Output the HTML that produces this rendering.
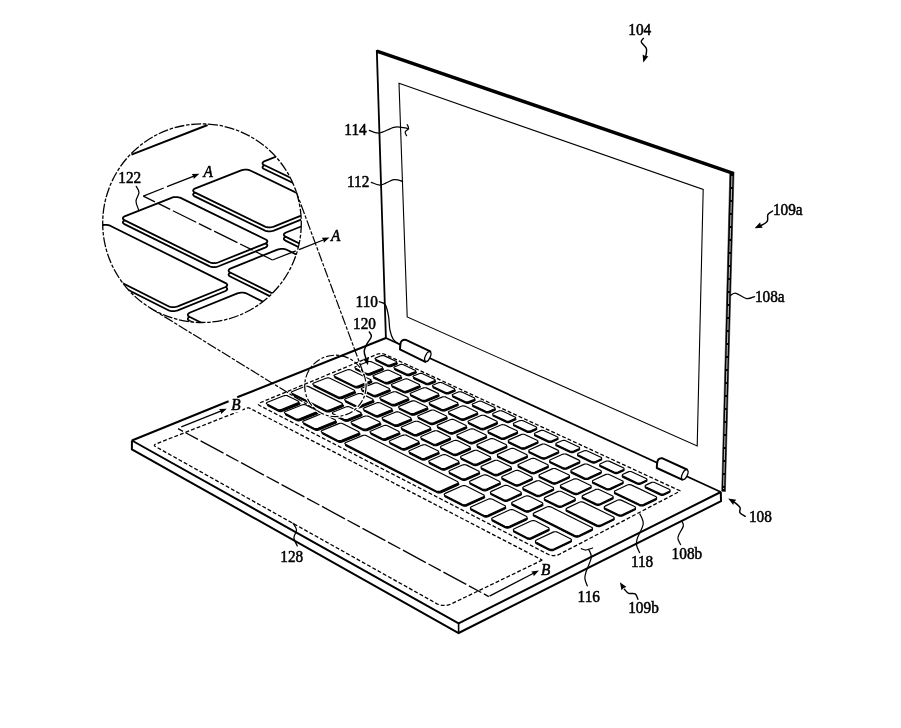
<!DOCTYPE html>
<html><head><meta charset="utf-8"><title>Figure</title>
<style>html,body{margin:0;padding:0;background:#fff}svg{display:block;will-change:transform}text{font-family:"Liberation Serif",serif;fill:#000;stroke:#000;stroke-width:0.5px}</style>
</head><body>
<svg width="901" height="728" viewBox="0 0 901 728">
<rect width="901" height="728" fill="#fff"/>
<g fill="none" stroke="#000" stroke-linecap="butt">
<path d="M131.9 440.5 L458.6 623.3 L720.8 492" stroke-width="2.0" stroke-linejoin="miter"/>
<path d="M131.9 440.5 L131.9 449.3 L458.6 633 L721 501.2 L720.8 492" stroke-width="2.0" stroke-linejoin="miter"/>
<line x1="458.6" y1="623.3" x2="458.6" y2="633" stroke-width="1.6" />
<line x1="131.9" y1="440.5" x2="228.6" y2="401.3" stroke-width="2.0" />
<line x1="237.2" y1="397.3" x2="385.9" y2="338" stroke-width="2.0" />
<line x1="385.9" y1="338" x2="720.8" y2="492" stroke-width="1.8" />
<line x1="376.8" y1="51.2" x2="734" y2="173.6" stroke-width="3.4" stroke-linecap="butt"/>
<line x1="376.8" y1="50" x2="385.9" y2="338" stroke-width="1.8" />
<path d="M399 83.3 L703.2 189.5 L697.2 446 L407.2 317Z" stroke-width="1.1" />
<path d="M729.8 172.5 L734 173.3 L725.4 491.5 L721.7 491.2Z" stroke-width="0.5" fill="#000"/>
<path d="M731.95 176 L723.55 489" stroke-width="1.1" stroke="#b4b4b4" stroke-dasharray="11 2"/>
</g>
<g fill="#fff" stroke="#000" stroke-width="2.0" stroke-linejoin="round"><path d="M399.9 349.3 L400.4 344.2 Q400.7 339.3 405.9 339.9 L430.3 351.3 L425.3 361.9 Z"/><ellipse cx="427.8" cy="356.6" rx="2.4" ry="5.2" transform="rotate(25 427.8 356.6)" stroke-width="1.3"/></g>
<g fill="#fff" stroke="#000" stroke-width="2.0" stroke-linejoin="round"><path d="M656.8 468 L657 464.2 Q657.3 457.6 662 458.2 L686.9 469.5 L682.1 479.7 Z"/><ellipse cx="684.8" cy="474.6" rx="2.5" ry="5.3" transform="rotate(25 684.8 474.6)" stroke-width="1.3"/></g>
<g fill="none" stroke="#000">
<path d="M376.38 354.52 Q381 352.6 385.54 354.7 L679.67 490.66 Q680.4 491 679.69 491.37 L559.98 553.99 Q553.78 557.24 547.56 554.03 L259.94 405.72 Q256.82 404.11 260.06 402.77 Z" stroke-width="1.3" stroke-dasharray="3.9 2.1"/>
<path d="M541.55 559.74 L541.67 559.82 L541.76 559.9 L541.82 559.99 L541.83 560.09 L541.82 560.18 L541.76 560.27 L541.67 560.35 L541.55 560.42 L450.99 604.07 L449.45 604.68 L447.71 605.12 L445.84 605.38 L443.9 605.44 L441.98 605.31 L440.15 604.98 L438.48 604.48 L437.03 603.81 L155.09 446.32 L154.73 446.07 L154.5 445.79 L154.39 445.48 L154.42 445.17 L154.59 444.86 L154.88 444.56 L155.28 444.28 L155.79 444.05 L247.31 408.02 L247.54 407.95 L247.8 407.89 L248.07 407.86 L248.35 407.85 L248.62 407.86 L248.88 407.9 L249.1 407.97 L249.3 408.05Z" stroke-width="1.3" stroke-dasharray="3.9 2.1"/>
</g>
<rect x="229.5" y="404" width="13" height="8.5" fill="#fff"/>
<g fill="#fff" stroke="#000" stroke-width="1.15" stroke-linejoin="round"><path d="M396.74 362.88 L397.15 363.15 L397.35 363.47 L397.31 363.8 L397.03 364.11 L396.55 364.38 L391.32 366.45 L390.67 366.64 L389.93 366.74 L389.16 366.73 L388.44 366.61 L387.84 366.41 L376.39 361.01 L375.98 360.74 L375.79 360.42 L375.84 360.09 L376.12 359.78 L376.61 359.52 L381.82 357.47 L382.47 357.28 L383.21 357.19 L383.98 357.2 L384.69 357.31 L385.28 357.51Z" fill="#000"/><path d="M396 361.24 L396.42 361.51 L396.62 361.83 L396.57 362.16 L396.3 362.48 L395.81 362.74 L390.59 364.82 L389.94 365 L389.19 365.1 L388.42 365.09 L387.7 364.98 L387.1 364.77 L375.66 359.37 L375.24 359.1 L375.05 358.78 L375.1 358.45 L375.38 358.14 L375.87 357.88 L381.09 355.83 L381.73 355.64 L382.47 355.55 L383.24 355.56 L383.95 355.67 L384.55 355.87Z"/><path d="M415.71 371.77 L416.14 372.05 L416.34 372.37 L416.3 372.71 L416.03 373.03 L415.54 373.29 L410.31 375.4 L409.66 375.59 L408.91 375.69 L408.13 375.68 L407.4 375.57 L406.8 375.36 L395.17 369.87 L394.75 369.6 L394.56 369.28 L394.6 368.94 L394.88 368.63 L395.37 368.36 L400.59 366.28 L401.24 366.09 L401.99 365.99 L402.76 366 L403.48 366.11 L404.08 366.32Z" fill="#000"/><path d="M415.05 370.17 L415.48 370.45 L415.68 370.77 L415.64 371.11 L415.37 371.42 L414.88 371.69 L409.65 373.8 L409 373.99 L408.25 374.09 L407.47 374.08 L406.74 373.96 L406.14 373.76 L394.51 368.27 L394.09 367.99 L393.89 367.67 L393.94 367.34 L394.22 367.02 L394.71 366.76 L399.93 364.67 L400.58 364.48 L401.32 364.39 L402.1 364.4 L402.82 364.51 L403.42 364.72Z"/><path d="M434.98 380.81 L435.42 381.09 L435.63 381.42 L435.6 381.76 L435.32 382.08 L434.84 382.35 L429.6 384.49 L428.94 384.69 L428.19 384.78 L427.4 384.77 L426.67 384.66 L426.05 384.45 L414.25 378.88 L413.82 378.6 L413.62 378.27 L413.65 377.93 L413.93 377.61 L414.42 377.34 L419.65 375.22 L420.3 375.03 L421.05 374.94 L421.83 374.95 L422.56 375.06 L423.17 375.27Z" fill="#000"/><path d="M434.4 379.24 L434.83 379.52 L435.05 379.85 L435.01 380.19 L434.74 380.51 L434.25 380.79 L429.01 382.93 L428.36 383.12 L427.6 383.22 L426.82 383.21 L426.09 383.09 L425.47 382.88 L413.66 377.31 L413.24 377.03 L413.03 376.7 L413.07 376.36 L413.35 376.04 L413.84 375.77 L419.07 373.66 L419.72 373.47 L420.47 373.37 L421.25 373.38 L421.98 373.49 L422.58 373.7Z"/><path d="M454.56 389.98 L455 390.27 L455.22 390.6 L455.2 390.95 L454.93 391.28 L454.44 391.56 L449.19 393.73 L448.54 393.92 L447.77 394.02 L446.98 394.01 L446.24 393.9 L445.62 393.68 L433.62 388.02 L433.19 387.74 L432.98 387.4 L433.01 387.06 L433.28 386.73 L433.77 386.46 L439.01 384.31 L439.67 384.12 L440.42 384.02 L441.21 384.03 L441.94 384.15 L442.56 384.36Z" fill="#000"/><path d="M454.06 388.45 L454.5 388.74 L454.72 389.07 L454.69 389.42 L454.42 389.75 L453.94 390.02 L448.69 392.2 L448.03 392.39 L447.27 392.49 L446.48 392.48 L445.74 392.36 L445.11 392.15 L433.12 386.49 L432.68 386.2 L432.47 385.87 L432.5 385.53 L432.78 385.2 L433.27 384.93 L438.51 382.78 L439.16 382.59 L439.92 382.49 L440.7 382.5 L441.44 382.62 L442.05 382.83Z"/><path d="M474.45 399.31 L474.9 399.6 L475.13 399.94 L475.11 400.29 L474.84 400.62 L474.36 400.9 L469.1 403.11 L468.44 403.31 L467.67 403.41 L466.88 403.4 L466.13 403.28 L465.49 403.06 L453.31 397.31 L452.86 397.02 L452.65 396.68 L452.67 396.33 L452.94 396 L453.43 395.73 L458.68 393.55 L459.34 393.35 L460.1 393.25 L460.89 393.26 L461.63 393.38 L462.26 393.59Z" fill="#000"/><path d="M474.03 397.81 L474.48 398.1 L474.7 398.44 L474.68 398.8 L474.41 399.13 L473.93 399.41 L468.67 401.61 L468.01 401.81 L467.25 401.91 L466.45 401.9 L465.7 401.78 L465.07 401.57 L452.88 395.82 L452.44 395.53 L452.22 395.19 L452.25 394.84 L452.52 394.51 L453.01 394.23 L458.26 392.05 L458.91 391.85 L459.67 391.76 L460.46 391.77 L461.21 391.88 L461.83 392.1Z"/><path d="M494.66 408.78 L495.12 409.08 L495.35 409.42 L495.34 409.78 L495.08 410.12 L494.59 410.4 L489.33 412.64 L488.67 412.85 L487.9 412.95 L487.09 412.94 L486.33 412.82 L485.69 412.6 L473.31 406.75 L472.86 406.46 L472.63 406.11 L472.65 405.76 L472.92 405.42 L473.41 405.14 L478.66 402.93 L479.32 402.73 L480.09 402.63 L480.88 402.64 L481.64 402.76 L482.27 402.97Z" fill="#000"/><path d="M494.32 407.33 L494.78 407.62 L495.01 407.97 L494.99 408.32 L494.73 408.66 L494.25 408.95 L488.98 411.19 L488.32 411.39 L487.55 411.49 L486.75 411.48 L485.99 411.36 L485.35 411.14 L472.96 405.29 L472.51 405 L472.28 404.66 L472.31 404.3 L472.57 403.96 L473.06 403.68 L478.32 401.47 L478.98 401.27 L479.74 401.17 L480.54 401.18 L481.29 401.3 L481.93 401.52Z"/><path d="M515.2 418.41 L515.67 418.71 L515.91 419.06 L515.9 419.43 L515.64 419.77 L515.16 420.06 L509.89 422.33 L509.22 422.54 L508.45 422.64 L507.63 422.63 L506.87 422.51 L506.22 422.28 L493.63 416.34 L493.17 416.04 L492.94 415.7 L492.95 415.33 L493.22 414.99 L493.7 414.71 L498.97 412.46 L499.63 412.26 L500.4 412.16 L501.2 412.17 L501.96 412.29 L502.61 412.51Z" fill="#000"/><path d="M514.94 416.99 L515.41 417.29 L515.65 417.64 L515.64 418.01 L515.38 418.35 L514.89 418.64 L509.62 420.91 L508.96 421.12 L508.18 421.22 L507.37 421.21 L506.6 421.09 L505.95 420.86 L493.37 414.92 L492.91 414.62 L492.67 414.28 L492.69 413.91 L492.95 413.57 L493.44 413.29 L498.71 411.04 L499.37 410.84 L500.14 410.74 L500.94 410.75 L501.7 410.87 L502.34 411.09Z"/><path d="M536.07 428.2 L536.55 428.5 L536.8 428.86 L536.8 429.23 L536.54 429.58 L536.06 429.87 L530.78 432.18 L530.11 432.39 L529.33 432.49 L528.52 432.48 L527.74 432.36 L527.08 432.13 L514.29 426.09 L513.82 425.79 L513.58 425.44 L513.59 425.07 L513.85 424.72 L514.33 424.43 L519.61 422.15 L520.27 421.94 L521.04 421.84 L521.85 421.85 L522.62 421.97 L523.28 422.2Z" fill="#000"/><path d="M535.89 426.81 L536.37 427.12 L536.62 427.48 L536.62 427.85 L536.36 428.19 L535.88 428.49 L530.6 430.8 L529.93 431.01 L529.15 431.11 L528.34 431.1 L527.56 430.97 L526.9 430.75 L514.11 424.71 L513.64 424.41 L513.4 424.05 L513.41 423.68 L513.67 423.34 L514.15 423.05 L519.43 420.77 L520.09 420.56 L520.86 420.46 L521.67 420.47 L522.44 420.59 L523.1 420.82Z"/><path d="M557.29 438.14 L557.78 438.45 L558.04 438.82 L558.04 439.19 L557.79 439.55 L557.3 439.84 L552.02 442.19 L551.35 442.4 L550.57 442.51 L549.74 442.5 L548.96 442.37 L548.29 442.14 L535.28 436 L534.8 435.69 L534.55 435.33 L534.56 434.96 L534.82 434.61 L535.3 434.31 L540.58 431.99 L541.24 431.79 L542.02 431.68 L542.84 431.69 L543.62 431.82 L544.28 432.05Z" fill="#000"/><path d="M557.2 436.8 L557.68 437.11 L557.94 437.47 L557.94 437.85 L557.69 438.2 L557.21 438.5 L551.92 440.85 L551.26 441.06 L550.47 441.17 L549.65 441.15 L548.86 441.03 L548.19 440.8 L535.19 434.66 L534.71 434.35 L534.46 433.99 L534.46 433.62 L534.72 433.26 L535.21 432.97 L540.49 430.65 L541.15 430.44 L541.93 430.34 L542.75 430.35 L543.53 430.47 L544.19 430.7Z"/><path d="M578.86 448.26 L579.36 448.57 L579.62 448.94 L579.63 449.32 L579.39 449.68 L578.9 449.98 L573.61 452.37 L572.94 452.59 L572.15 452.69 L571.32 452.68 L570.53 452.55 L569.85 452.31 L556.63 446.08 L556.14 445.76 L555.88 445.4 L555.88 445.02 L556.13 444.66 L556.62 444.36 L561.9 442 L562.57 441.79 L563.35 441.69 L564.18 441.7 L564.97 441.82 L565.64 442.06Z" fill="#000"/><path d="M578.85 446.95 L579.35 447.27 L579.62 447.64 L579.62 448.02 L579.38 448.38 L578.89 448.68 L573.6 451.06 L572.93 451.28 L572.14 451.39 L571.31 451.38 L570.52 451.25 L569.84 451.01 L556.62 444.77 L556.13 444.46 L555.87 444.09 L555.87 443.71 L556.12 443.35 L556.61 443.05 L561.89 440.7 L562.56 440.49 L563.34 440.38 L564.17 440.39 L564.96 440.52 L565.63 440.75Z"/><path d="M600.87 458.57 L601.38 458.9 L601.65 459.27 L601.67 459.66 L601.43 460.02 L600.94 460.33 L595.65 462.75 L594.98 462.97 L594.18 463.08 L593.34 463.07 L592.54 462.94 L591.85 462.7 L578.41 456.35 L577.91 456.03 L577.64 455.66 L577.63 455.28 L577.88 454.91 L578.37 454.61 L583.66 452.22 L584.33 452 L585.11 451.89 L585.95 451.9 L586.74 452.03 L587.42 452.27Z" fill="#000"/><path d="M600.87 457.27 L601.38 457.6 L601.65 457.97 L601.67 458.36 L601.43 458.72 L600.94 459.03 L595.65 461.45 L594.98 461.67 L594.18 461.78 L593.34 461.77 L592.54 461.64 L591.85 461.4 L578.41 455.05 L577.91 454.73 L577.64 454.36 L577.63 453.98 L577.88 453.61 L578.37 453.31 L583.66 450.92 L584.33 450.7 L585.11 450.59 L585.95 450.6 L586.74 450.73 L587.42 450.97Z"/><path d="M623.27 469.07 L623.78 469.4 L624.06 469.78 L624.09 470.17 L623.85 470.54 L623.37 470.86 L618.07 473.32 L617.39 473.54 L616.59 473.65 L615.74 473.64 L614.93 473.5 L614.23 473.26 L600.56 466.81 L600.05 466.48 L599.78 466.11 L599.76 465.71 L600.01 465.35 L600.49 465.04 L605.79 462.6 L606.46 462.38 L607.25 462.28 L608.09 462.29 L608.9 462.42 L609.59 462.66Z" fill="#000"/><path d="M623.27 467.77 L623.78 468.1 L624.06 468.48 L624.09 468.87 L623.85 469.24 L623.37 469.56 L618.07 472.02 L617.39 472.24 L616.59 472.35 L615.74 472.34 L614.93 472.2 L614.23 471.96 L600.56 465.51 L600.05 465.18 L599.78 464.81 L599.76 464.41 L600.01 464.05 L600.49 463.74 L605.79 461.3 L606.46 461.08 L607.25 460.98 L608.09 460.99 L608.9 461.12 L609.59 461.36Z"/><path d="M646.04 479.75 L646.57 480.08 L646.86 480.46 L646.89 480.87 L646.65 481.24 L646.17 481.56 L640.87 484.06 L640.19 484.29 L639.39 484.4 L638.53 484.39 L637.71 484.25 L637 484.01 L623.09 477.44 L622.58 477.11 L622.29 476.73 L622.27 476.33 L622.51 475.95 L622.99 475.64 L628.29 473.17 L628.97 472.94 L629.76 472.83 L630.61 472.85 L631.43 472.98 L632.13 473.23Z" fill="#000"/><path d="M646.04 478.45 L646.57 478.78 L646.86 479.16 L646.89 479.57 L646.65 479.94 L646.17 480.26 L640.87 482.76 L640.19 482.99 L639.39 483.1 L638.53 483.09 L637.71 482.95 L637 482.71 L623.09 476.14 L622.58 475.81 L622.29 475.43 L622.27 475.03 L622.51 474.65 L622.99 474.34 L628.29 471.87 L628.97 471.64 L629.76 471.53 L630.61 471.55 L631.43 471.68 L632.13 471.93Z"/><path d="M669.2 490.6 L669.74 490.94 L670.04 491.33 L670.08 491.74 L669.85 492.13 L669.37 492.45 L664.06 495 L663.39 495.23 L662.57 495.34 L661.71 495.33 L660.88 495.19 L660.16 494.93 L646.01 488.26 L645.48 487.92 L645.19 487.53 L645.16 487.13 L645.4 486.74 L645.88 486.42 L651.18 483.91 L651.86 483.69 L652.66 483.57 L653.52 483.59 L654.34 483.72 L655.05 483.97Z" fill="#000"/><path d="M669.2 489.3 L669.74 489.64 L670.04 490.03 L670.08 490.44 L669.85 490.83 L669.37 491.15 L664.06 493.7 L663.39 493.93 L662.57 494.04 L661.71 494.03 L660.88 493.89 L660.16 493.63 L646.01 486.96 L645.48 486.62 L645.19 486.23 L645.16 485.83 L645.4 485.44 L645.88 485.12 L651.18 482.61 L651.86 482.39 L652.66 482.27 L653.52 482.29 L654.34 482.42 L655.05 482.67Z"/><path d="M382.7 368.47 L383.16 368.77 L383.38 369.13 L383.33 369.5 L383.01 369.85 L382.47 370.15 L370.59 374.87 L369.86 375.08 L369.03 375.19 L368.16 375.18 L367.36 375.05 L366.7 374.82 L356.28 369.83 L355.83 369.52 L355.62 369.17 L355.68 368.79 L356 368.44 L356.55 368.15 L368.41 363.48 L369.13 363.27 L369.96 363.16 L370.81 363.18 L371.61 363.3 L372.27 363.52Z" fill="#000"/><path d="M381.89 366.8 L382.36 367.1 L382.57 367.46 L382.52 367.83 L382.21 368.18 L381.66 368.48 L369.79 373.2 L369.06 373.41 L368.22 373.52 L367.36 373.51 L366.56 373.38 L365.89 373.15 L355.48 368.16 L355.02 367.85 L354.81 367.5 L354.87 367.12 L355.19 366.77 L355.75 366.48 L367.6 361.81 L368.33 361.6 L369.16 361.5 L370.01 361.51 L370.8 361.63 L371.46 361.85Z"/><path d="M400.99 377.13 L401.46 377.44 L401.69 377.81 L401.64 378.18 L401.33 378.54 L400.78 378.84 L388.89 383.63 L388.15 383.85 L387.31 383.95 L386.44 383.94 L385.63 383.82 L384.96 383.58 L374.39 378.51 L373.92 378.2 L373.71 377.84 L373.76 377.46 L374.08 377.11 L374.63 376.81 L386.51 372.07 L387.24 371.86 L388.07 371.75 L388.93 371.76 L389.73 371.89 L390.4 372.12Z" fill="#000"/><path d="M400.26 375.5 L400.73 375.81 L400.95 376.17 L400.91 376.55 L400.6 376.9 L400.05 377.2 L388.15 382 L387.42 382.21 L386.58 382.32 L385.71 382.31 L384.9 382.18 L384.23 381.95 L373.65 376.88 L373.19 376.57 L372.97 376.2 L373.03 375.83 L373.35 375.47 L373.9 375.17 L385.78 370.43 L386.5 370.22 L387.34 370.12 L388.2 370.13 L389 370.25 L389.67 370.48Z"/><path d="M419.56 385.93 L420.04 386.25 L420.27 386.61 L420.23 387 L419.92 387.36 L419.38 387.66 L407.46 392.53 L406.72 392.74 L405.88 392.85 L405 392.84 L404.18 392.71 L403.5 392.48 L392.77 387.33 L392.29 387.01 L392.07 386.64 L392.12 386.26 L392.44 385.9 L392.99 385.6 L404.89 380.79 L405.61 380.57 L406.45 380.47 L407.32 380.48 L408.13 380.61 L408.81 380.84Z" fill="#000"/><path d="M418.9 384.33 L419.38 384.65 L419.61 385.01 L419.57 385.4 L419.26 385.76 L418.72 386.06 L406.8 390.92 L406.07 391.14 L405.22 391.25 L404.34 391.24 L403.52 391.11 L402.84 390.87 L392.11 385.73 L391.63 385.41 L391.41 385.04 L391.46 384.66 L391.78 384.3 L392.33 383.99 L404.23 379.19 L404.96 378.97 L405.8 378.87 L406.66 378.88 L407.47 379 L408.15 379.24Z"/><path d="M438.41 394.86 L438.9 395.19 L439.14 395.56 L439.11 395.95 L438.8 396.31 L438.26 396.62 L426.32 401.56 L425.58 401.78 L424.73 401.89 L423.85 401.88 L423.02 401.75 L422.33 401.51 L411.43 396.28 L410.95 395.96 L410.72 395.58 L410.76 395.19 L411.07 394.83 L411.62 394.52 L423.54 389.64 L424.27 389.43 L425.12 389.32 L425.99 389.33 L426.81 389.46 L427.5 389.69Z" fill="#000"/><path d="M437.83 393.3 L438.32 393.62 L438.56 393.99 L438.52 394.38 L438.22 394.75 L437.67 395.06 L425.74 399.99 L425 400.21 L424.15 400.32 L423.26 400.31 L422.44 400.18 L421.74 399.94 L410.84 394.71 L410.36 394.39 L410.13 394.02 L410.18 393.63 L410.49 393.26 L411.04 392.95 L422.96 388.08 L423.69 387.86 L424.54 387.75 L425.41 387.76 L426.23 387.89 L426.91 388.13Z"/><path d="M457.56 403.94 L458.06 404.26 L458.3 404.64 L458.27 405.04 L457.97 405.41 L457.43 405.72 L445.47 410.73 L444.73 410.95 L443.87 411.07 L442.98 411.05 L442.15 410.92 L441.45 410.68 L430.38 405.37 L429.89 405.04 L429.65 404.66 L429.69 404.27 L430 403.9 L430.55 403.58 L442.49 398.63 L443.22 398.41 L444.07 398.3 L444.95 398.31 L445.78 398.45 L446.47 398.68Z" fill="#000"/><path d="M457.05 402.4 L457.55 402.73 L457.8 403.11 L457.77 403.5 L457.47 403.88 L456.92 404.19 L444.97 409.2 L444.23 409.42 L443.37 409.53 L442.48 409.52 L441.64 409.39 L440.94 409.14 L429.87 403.83 L429.38 403.51 L429.14 403.13 L429.18 402.73 L429.49 402.36 L430.04 402.05 L441.98 397.1 L442.71 396.88 L443.56 396.77 L444.45 396.78 L445.27 396.91 L445.97 397.15Z"/><path d="M477 413.15 L477.51 413.48 L477.76 413.86 L477.74 414.27 L477.44 414.64 L476.9 414.96 L464.93 420.04 L464.18 420.27 L463.32 420.39 L462.42 420.37 L461.58 420.24 L460.87 419.99 L449.62 414.6 L449.12 414.27 L448.88 413.88 L448.91 413.48 L449.22 413.1 L449.77 412.79 L461.73 407.76 L462.46 407.54 L463.31 407.43 L464.2 407.44 L465.04 407.57 L465.74 407.82Z" fill="#000"/><path d="M476.57 411.65 L477.08 411.98 L477.34 412.37 L477.31 412.77 L477.01 413.15 L476.47 413.47 L464.5 418.55 L463.75 418.78 L462.89 418.89 L461.99 418.88 L461.15 418.74 L460.44 418.49 L449.19 413.1 L448.69 412.77 L448.45 412.38 L448.48 411.98 L448.79 411.61 L449.34 411.29 L461.3 406.27 L462.03 406.04 L462.89 405.93 L463.78 405.94 L464.61 406.08 L465.32 406.32Z"/><path d="M496.75 422.51 L497.27 422.84 L497.53 423.23 L497.51 423.64 L497.22 424.02 L496.68 424.35 L484.69 429.51 L483.94 429.74 L483.07 429.85 L482.17 429.84 L481.31 429.7 L480.59 429.45 L469.17 423.97 L468.66 423.64 L468.41 423.25 L468.43 422.84 L468.74 422.46 L469.29 422.13 L481.26 417.03 L482 416.81 L482.86 416.69 L483.76 416.71 L484.6 416.84 L485.32 417.09Z" fill="#000"/><path d="M496.4 421.05 L496.92 421.38 L497.18 421.77 L497.16 422.18 L496.87 422.56 L496.33 422.89 L484.34 428.05 L483.59 428.28 L482.72 428.39 L481.82 428.38 L480.96 428.24 L480.24 427.99 L468.82 422.51 L468.31 422.18 L468.06 421.79 L468.08 421.38 L468.39 421 L468.94 420.67 L480.91 415.57 L481.65 415.35 L482.51 415.23 L483.41 415.25 L484.25 415.38 L484.97 415.63Z"/><path d="M516.81 432.01 L517.34 432.35 L517.61 432.75 L517.6 433.16 L517.31 433.55 L516.77 433.88 L504.76 439.12 L504.01 439.35 L503.14 439.47 L502.23 439.46 L501.36 439.32 L500.63 439.06 L489.03 433.5 L488.51 433.16 L488.25 432.76 L488.27 432.34 L488.57 431.96 L489.12 431.63 L501.11 426.45 L501.85 426.22 L502.71 426.11 L503.62 426.12 L504.47 426.26 L505.2 426.51Z" fill="#000"/><path d="M516.54 430.59 L517.07 430.93 L517.34 431.33 L517.33 431.74 L517.04 432.13 L516.5 432.46 L504.49 437.7 L503.74 437.93 L502.87 438.05 L501.96 438.04 L501.09 437.89 L500.36 437.64 L488.76 432.07 L488.24 431.73 L487.98 431.33 L488 430.92 L488.3 430.53 L488.85 430.21 L500.84 425.03 L501.58 424.8 L502.45 424.68 L503.35 424.7 L504.2 424.83 L504.93 425.09Z"/><path d="M537.2 441.67 L537.73 442.02 L538.01 442.42 L538.01 442.84 L537.72 443.24 L537.18 443.57 L525.16 448.89 L524.41 449.13 L523.53 449.24 L522.61 449.23 L521.73 449.09 L520.99 448.83 L509.2 443.17 L508.67 442.83 L508.4 442.42 L508.42 442 L508.71 441.61 L509.26 441.28 L521.27 436.02 L522.01 435.79 L522.88 435.67 L523.8 435.68 L524.66 435.82 L525.39 436.08Z" fill="#000"/><path d="M537.01 440.28 L537.54 440.63 L537.82 441.03 L537.82 441.45 L537.53 441.85 L536.99 442.18 L524.97 447.5 L524.22 447.74 L523.34 447.86 L522.42 447.84 L521.54 447.7 L520.81 447.44 L509.01 441.79 L508.49 441.44 L508.22 441.04 L508.23 440.62 L508.52 440.22 L509.07 439.89 L521.08 434.63 L521.83 434.4 L522.7 434.28 L523.61 434.3 L524.47 434.44 L525.21 434.69Z"/><path d="M557.9 451.48 L558.45 451.83 L558.74 452.24 L558.74 452.67 L558.46 453.07 L557.92 453.41 L545.88 458.81 L545.13 459.05 L544.25 459.17 L543.32 459.16 L542.43 459.01 L541.68 458.75 L529.7 453.01 L529.16 452.65 L528.88 452.24 L528.89 451.82 L529.18 451.41 L529.73 451.08 L541.76 445.74 L542.5 445.5 L543.38 445.39 L544.29 445.4 L545.17 445.54 L545.91 445.8Z" fill="#000"/><path d="M557.8 450.13 L558.35 450.49 L558.63 450.9 L558.64 451.32 L558.35 451.72 L557.81 452.06 L545.78 457.46 L545.03 457.71 L544.14 457.83 L543.21 457.81 L542.33 457.67 L541.58 457.4 L529.6 451.66 L529.06 451.3 L528.78 450.89 L528.79 450.47 L529.08 450.07 L529.63 449.73 L541.65 444.39 L542.4 444.16 L543.27 444.04 L544.19 444.05 L545.06 444.19 L545.81 444.45Z"/><path d="M578.95 461.45 L579.51 461.81 L579.8 462.23 L579.81 462.66 L579.54 463.07 L579 463.41 L566.95 468.9 L566.19 469.14 L565.3 469.27 L564.36 469.25 L563.47 469.1 L562.71 468.84 L550.53 463 L549.99 462.64 L549.7 462.22 L549.7 461.79 L549.98 461.38 L550.53 461.04 L562.57 455.62 L563.32 455.38 L564.2 455.26 L565.13 455.27 L566.01 455.42 L566.76 455.68Z" fill="#000"/><path d="M578.93 460.14 L579.49 460.5 L579.78 460.92 L579.79 461.35 L579.52 461.76 L578.97 462.1 L566.93 467.59 L566.17 467.83 L565.28 467.96 L564.34 467.94 L563.45 467.79 L562.69 467.53 L550.51 461.69 L549.96 461.33 L549.68 460.91 L549.68 460.48 L549.96 460.07 L550.51 459.73 L562.55 454.31 L563.3 454.07 L564.18 453.95 L565.1 453.96 L565.99 454.11 L566.74 454.37Z"/><path d="M600.4 471.62 L600.97 471.98 L601.28 472.41 L601.3 472.85 L601.02 473.26 L600.48 473.61 L588.42 479.18 L587.66 479.43 L586.77 479.55 L585.82 479.54 L584.92 479.39 L584.15 479.12 L571.77 473.18 L571.21 472.82 L570.91 472.39 L570.91 471.95 L571.19 471.54 L571.74 471.19 L583.79 465.69 L584.54 465.44 L585.42 465.32 L586.36 465.33 L587.25 465.48 L588.02 465.75Z" fill="#000"/><path d="M600.4 470.32 L600.97 470.68 L601.28 471.11 L601.3 471.55 L601.02 471.96 L600.48 472.31 L588.42 477.88 L587.66 478.13 L586.77 478.25 L585.82 478.24 L584.92 478.09 L584.15 477.82 L571.77 471.88 L571.21 471.52 L570.91 471.09 L570.91 470.65 L571.19 470.24 L571.74 469.89 L583.79 464.39 L584.54 464.14 L585.42 464.02 L586.36 464.03 L587.25 464.18 L588.02 464.45Z"/><path d="M622.23 481.96 L622.81 482.33 L623.13 482.76 L623.15 483.21 L622.88 483.63 L622.34 483.98 L610.27 489.64 L609.51 489.9 L608.61 490.02 L607.66 490.01 L606.75 489.85 L605.96 489.58 L593.38 483.54 L592.81 483.17 L592.5 482.74 L592.49 482.29 L592.77 481.87 L593.31 481.52 L605.37 475.93 L606.13 475.68 L607.02 475.56 L607.96 475.57 L608.87 475.72 L609.64 475.99Z" fill="#000"/><path d="M622.23 480.66 L622.81 481.03 L623.13 481.46 L623.15 481.91 L622.88 482.33 L622.34 482.68 L610.27 488.34 L609.51 488.6 L608.61 488.72 L607.66 488.71 L606.75 488.55 L605.96 488.28 L593.38 482.24 L592.81 481.87 L592.5 481.44 L592.49 480.99 L592.77 480.57 L593.31 480.22 L605.37 474.63 L606.13 474.38 L607.02 474.26 L607.96 474.27 L608.87 474.42 L609.64 474.69Z"/><path d="M655.66 497.8 L656.25 498.17 L656.59 498.62 L656.62 499.07 L656.36 499.51 L655.82 499.87 L643.74 505.67 L642.98 505.93 L642.07 506.05 L641.1 506.04 L640.17 505.88 L639.37 505.6 L615.35 494.08 L614.77 493.7 L614.45 493.26 L614.43 492.81 L614.7 492.38 L615.24 492.02 L627.32 486.34 L628.07 486.09 L628.97 485.96 L629.92 485.98 L630.84 486.13 L631.62 486.41Z" fill="#000"/><path d="M655.66 496.5 L656.25 496.87 L656.59 497.32 L656.62 497.77 L656.36 498.21 L655.82 498.57 L643.74 504.37 L642.98 504.63 L642.07 504.75 L641.1 504.74 L640.17 504.58 L639.37 504.3 L615.35 492.78 L614.77 492.4 L614.45 491.96 L614.43 491.51 L614.7 491.08 L615.24 490.72 L627.32 485.04 L628.07 484.79 L628.97 484.66 L629.92 484.68 L630.84 484.83 L631.62 485.11Z"/><path d="M371.21 381.11 L371.67 381.42 L371.89 381.78 L371.83 382.16 L371.51 382.52 L370.96 382.82 L358.92 387.64 L358.18 387.86 L357.33 387.97 L356.46 387.96 L355.65 387.83 L354.98 387.59 L335.48 378.09 L335.02 377.78 L334.82 377.42 L334.89 377.04 L335.22 376.69 L335.78 376.39 L347.79 371.66 L348.52 371.45 L349.36 371.34 L350.21 371.35 L351.01 371.48 L351.67 371.7Z" fill="#000"/><path d="M370.34 379.41 L370.8 379.72 L371.02 380.09 L370.96 380.47 L370.64 380.82 L370.09 381.13 L358.05 385.95 L357.31 386.16 L356.46 386.27 L355.59 386.26 L354.78 386.13 L354.11 385.9 L334.61 376.39 L334.15 376.08 L333.95 375.72 L334.02 375.34 L334.35 374.99 L334.91 374.69 L346.92 369.96 L347.65 369.75 L348.49 369.64 L349.34 369.65 L350.14 369.78 L350.8 370.01Z"/><path d="M389.58 389.95 L390.06 390.27 L390.28 390.64 L390.23 391.02 L389.91 391.39 L389.36 391.69 L377.29 396.58 L376.55 396.8 L375.7 396.91 L374.82 396.9 L374 396.77 L373.33 396.53 L362.69 391.35 L362.23 391.04 L362.02 390.67 L362.07 390.28 L362.4 389.92 L362.96 389.61 L375.01 384.78 L375.74 384.56 L376.58 384.45 L377.45 384.46 L378.26 384.59 L378.93 384.83Z" fill="#000"/><path d="M388.81 388.29 L389.28 388.61 L389.5 388.98 L389.45 389.37 L389.13 389.73 L388.58 390.04 L376.51 394.93 L375.77 395.15 L374.92 395.26 L374.04 395.25 L373.23 395.11 L372.55 394.88 L361.92 389.7 L361.45 389.38 L361.24 389.01 L361.3 388.62 L361.62 388.26 L362.18 387.96 L374.23 383.12 L374.96 382.9 L375.81 382.8 L376.67 382.81 L377.48 382.94 L378.16 383.17Z"/><path d="M408.26 398.94 L408.74 399.26 L408.97 399.64 L408.93 400.03 L408.61 400.4 L408.06 400.71 L395.97 405.67 L395.23 405.9 L394.37 406.01 L393.49 405.99 L392.66 405.86 L391.97 405.62 L381.18 400.36 L380.7 400.04 L380.48 399.66 L380.53 399.27 L380.86 398.9 L381.42 398.59 L393.48 393.69 L394.22 393.47 L395.07 393.36 L395.95 393.37 L396.77 393.5 L397.45 393.74Z" fill="#000"/><path d="M407.56 397.32 L408.04 397.64 L408.27 398.02 L408.22 398.41 L407.91 398.78 L407.35 399.09 L395.27 404.05 L394.52 404.27 L393.67 404.38 L392.78 404.37 L391.96 404.24 L391.27 404 L380.47 398.74 L380 398.41 L379.78 398.04 L379.83 397.65 L380.15 397.28 L380.71 396.97 L392.78 392.06 L393.52 391.84 L394.37 391.74 L395.24 391.75 L396.06 391.88 L396.74 392.11Z"/><path d="M427.22 408.07 L427.71 408.4 L427.95 408.78 L427.91 409.18 L427.6 409.55 L427.05 409.86 L414.94 414.9 L414.19 415.13 L413.33 415.24 L412.44 415.23 L411.61 415.09 L410.91 414.85 L399.94 409.51 L399.46 409.18 L399.23 408.8 L399.28 408.4 L399.6 408.03 L400.16 407.71 L412.25 402.73 L412.99 402.51 L413.84 402.4 L414.73 402.41 L415.55 402.54 L416.24 402.78Z" fill="#000"/><path d="M426.6 406.48 L427.09 406.81 L427.32 407.19 L427.29 407.59 L426.97 407.96 L426.42 408.28 L414.31 413.31 L413.57 413.54 L412.7 413.65 L411.81 413.64 L410.98 413.51 L410.28 413.26 L399.32 407.92 L398.83 407.59 L398.6 407.21 L398.65 406.81 L398.97 406.44 L399.53 406.12 L411.62 401.14 L412.36 400.92 L413.21 400.81 L414.1 400.82 L414.92 400.96 L415.61 401.2Z"/><path d="M446.49 417.34 L446.98 417.67 L447.23 418.06 L447.2 418.46 L446.89 418.84 L446.34 419.16 L434.21 424.28 L433.46 424.51 L432.59 424.62 L431.69 424.61 L430.85 424.47 L430.14 424.22 L419.01 418.79 L418.51 418.46 L418.28 418.07 L418.32 417.67 L418.64 417.29 L419.2 416.97 L431.31 411.92 L432.05 411.69 L432.91 411.58 L433.8 411.59 L434.63 411.73 L435.33 411.97Z" fill="#000"/><path d="M445.93 415.79 L446.43 416.12 L446.68 416.51 L446.65 416.91 L446.34 417.29 L445.78 417.61 L433.66 422.72 L432.91 422.95 L432.04 423.07 L431.14 423.06 L430.3 422.92 L429.59 422.67 L418.45 417.24 L417.96 416.91 L417.73 416.52 L417.77 416.12 L418.08 415.74 L418.64 415.42 L430.75 410.37 L431.5 410.14 L432.36 410.03 L433.25 410.04 L434.08 410.18 L434.78 410.42Z"/><path d="M466.05 426.76 L466.56 427.09 L466.81 427.49 L466.79 427.9 L466.48 428.28 L465.93 428.61 L453.78 433.8 L453.03 434.03 L452.16 434.15 L451.25 434.14 L450.4 434 L449.68 433.74 L438.37 428.23 L437.87 427.89 L437.62 427.5 L437.66 427.09 L437.97 426.7 L438.53 426.38 L450.66 421.25 L451.41 421.02 L452.27 420.91 L453.17 420.92 L454.01 421.06 L454.72 421.3Z" fill="#000"/><path d="M465.58 425.24 L466.09 425.58 L466.34 425.97 L466.31 426.38 L466.01 426.77 L465.45 427.09 L453.31 432.28 L452.56 432.52 L451.68 432.63 L450.78 432.62 L449.92 432.48 L449.21 432.23 L437.9 426.71 L437.39 426.37 L437.15 425.98 L437.19 425.57 L437.5 425.19 L438.06 424.86 L450.19 419.73 L450.93 419.5 L451.8 419.39 L452.69 419.4 L453.54 419.54 L454.25 419.79Z"/><path d="M485.92 436.32 L486.44 436.67 L486.71 437.07 L486.69 437.48 L486.38 437.87 L485.83 438.2 L473.67 443.47 L472.91 443.71 L472.03 443.83 L471.12 443.81 L470.26 443.67 L469.53 443.42 L458.04 437.82 L457.53 437.47 L457.27 437.07 L457.3 436.66 L457.61 436.26 L458.17 435.94 L470.32 430.73 L471.07 430.5 L471.94 430.38 L472.84 430.39 L473.7 430.53 L474.42 430.78Z" fill="#000"/><path d="M485.53 434.84 L486.05 435.19 L486.31 435.59 L486.29 436 L485.99 436.39 L485.44 436.72 L473.27 441.99 L472.52 442.23 L471.64 442.35 L470.73 442.33 L469.86 442.19 L469.14 441.93 L457.64 436.33 L457.13 435.99 L456.88 435.59 L456.91 435.18 L457.22 434.78 L457.78 434.46 L469.93 429.25 L470.67 429.02 L471.54 428.9 L472.45 428.91 L473.3 429.05 L474.02 429.3Z"/><path d="M506.12 446.04 L506.65 446.39 L506.92 446.8 L506.9 447.22 L506.61 447.62 L506.05 447.95 L493.87 453.3 L493.12 453.54 L492.23 453.66 L491.31 453.65 L490.44 453.51 L489.7 453.24 L478.02 447.55 L477.5 447.2 L477.24 446.8 L477.26 446.38 L477.57 445.98 L478.13 445.64 L490.29 440.36 L491.04 440.12 L491.92 440 L492.83 440.02 L493.7 440.16 L494.42 440.41Z" fill="#000"/><path d="M505.8 444.6 L506.33 444.95 L506.6 445.35 L506.59 445.78 L506.29 446.17 L505.74 446.51 L493.56 451.86 L492.8 452.1 L491.92 452.22 L491 452.21 L490.12 452.06 L489.39 451.8 L477.71 446.11 L477.19 445.76 L476.93 445.35 L476.95 444.93 L477.26 444.53 L477.81 444.2 L489.98 438.91 L490.73 438.68 L491.61 438.56 L492.52 438.57 L493.38 438.72 L494.11 438.97Z"/><path d="M526.64 455.92 L527.17 456.27 L527.45 456.69 L527.45 457.11 L527.15 457.52 L526.6 457.86 L514.41 463.29 L513.65 463.54 L512.76 463.66 L511.83 463.64 L510.94 463.5 L510.2 463.23 L498.33 457.45 L497.8 457.09 L497.53 456.68 L497.55 456.25 L497.85 455.85 L498.4 455.51 L510.59 450.14 L511.34 449.9 L512.22 449.78 L513.14 449.8 L514.02 449.94 L514.75 450.2Z" fill="#000"/><path d="M526.41 454.51 L526.94 454.87 L527.22 455.28 L527.22 455.71 L526.92 456.11 L526.37 456.45 L514.18 461.89 L513.42 462.13 L512.53 462.25 L511.59 462.24 L510.71 462.09 L509.97 461.83 L498.1 456.04 L497.57 455.69 L497.3 455.28 L497.31 454.85 L497.62 454.44 L498.17 454.1 L510.36 448.73 L511.11 448.5 L511.99 448.38 L512.91 448.39 L513.78 448.53 L514.52 448.79Z"/><path d="M547.49 465.96 L548.04 466.32 L548.33 466.73 L548.33 467.17 L548.04 467.58 L547.49 467.93 L535.27 473.45 L534.51 473.69 L533.62 473.82 L532.68 473.8 L531.79 473.65 L531.03 473.38 L518.97 467.51 L518.43 467.14 L518.15 466.73 L518.16 466.29 L518.45 465.88 L519.01 465.54 L531.21 460.08 L531.97 459.84 L532.85 459.72 L533.78 459.73 L534.66 459.88 L535.41 460.14Z" fill="#000"/><path d="M547.34 464.59 L547.89 464.95 L548.18 465.37 L548.18 465.8 L547.89 466.21 L547.34 466.56 L535.13 472.08 L534.36 472.33 L533.47 472.45 L532.53 472.44 L531.64 472.29 L530.88 472.02 L518.82 466.14 L518.28 465.78 L518 465.36 L518.01 464.92 L518.31 464.51 L518.86 464.17 L531.06 458.72 L531.82 458.47 L532.7 458.35 L533.63 458.37 L534.52 458.51 L535.27 458.78Z"/><path d="M568.68 476.16 L569.24 476.52 L569.54 476.95 L569.55 477.39 L569.26 477.81 L568.71 478.16 L556.49 483.77 L555.72 484.02 L554.82 484.14 L553.87 484.13 L552.97 483.98 L552.21 483.7 L539.94 477.73 L539.39 477.36 L539.1 476.93 L539.11 476.49 L539.4 476.08 L539.96 475.73 L552.17 470.19 L552.93 469.94 L553.82 469.82 L554.76 469.83 L555.65 469.98 L556.41 470.25Z" fill="#000"/><path d="M568.62 474.83 L569.18 475.19 L569.48 475.62 L569.48 476.06 L569.2 476.48 L568.65 476.83 L556.42 482.44 L555.66 482.69 L554.76 482.81 L553.81 482.8 L552.91 482.65 L552.14 482.37 L539.88 476.4 L539.33 476.03 L539.04 475.61 L539.04 475.16 L539.34 474.75 L539.89 474.4 L552.11 468.86 L552.87 468.61 L553.76 468.49 L554.69 468.5 L555.59 468.65 L556.35 468.92Z"/><path d="M590.25 486.54 L590.82 486.91 L591.13 487.34 L591.14 487.79 L590.86 488.22 L590.31 488.57 L578.08 494.27 L577.31 494.52 L576.4 494.65 L575.45 494.64 L574.53 494.48 L573.76 494.2 L561.29 488.13 L560.73 487.76 L560.43 487.32 L560.42 486.87 L560.71 486.45 L561.27 486.09 L573.5 480.47 L574.26 480.22 L575.15 480.09 L576.1 480.11 L577 480.26 L577.77 480.53Z" fill="#000"/><path d="M590.25 485.24 L590.82 485.61 L591.13 486.04 L591.14 486.49 L590.86 486.92 L590.31 487.27 L578.08 492.97 L577.31 493.22 L576.4 493.35 L575.45 493.34 L574.53 493.18 L573.76 492.9 L561.29 486.83 L560.73 486.46 L560.43 486.02 L560.42 485.57 L560.71 485.15 L561.27 484.79 L573.5 479.17 L574.26 478.92 L575.15 478.79 L576.1 478.81 L577 478.96 L577.77 479.23Z"/><path d="M612.24 497.12 L612.82 497.5 L613.14 497.94 L613.16 498.4 L612.89 498.83 L612.34 499.19 L600.09 504.98 L599.32 505.24 L598.41 505.37 L597.44 505.35 L596.52 505.19 L595.73 504.91 L583.05 498.73 L582.48 498.35 L582.17 497.91 L582.16 497.46 L582.45 497.03 L583 496.67 L595.24 490.95 L596 490.69 L596.91 490.57 L597.86 490.58 L598.77 490.74 L599.56 491.02Z" fill="#000"/><path d="M612.24 495.82 L612.82 496.2 L613.14 496.64 L613.16 497.1 L612.89 497.53 L612.34 497.89 L600.09 503.68 L599.32 503.94 L598.41 504.07 L597.44 504.05 L596.52 503.89 L595.73 503.61 L583.05 497.43 L582.48 497.05 L582.17 496.61 L582.16 496.16 L582.45 495.73 L583 495.37 L595.24 489.65 L596 489.39 L596.91 489.27 L597.86 489.28 L598.77 489.44 L599.56 489.72Z"/><path d="M634.6 507.88 L635.19 508.27 L635.52 508.71 L635.55 509.18 L635.28 509.62 L634.74 509.98 L622.48 515.87 L621.7 516.13 L620.79 516.26 L619.81 516.24 L618.88 516.08 L618.08 515.8 L605.19 509.52 L604.6 509.13 L604.28 508.68 L604.26 508.22 L604.55 507.78 L605.1 507.41 L617.35 501.6 L618.12 501.35 L619.02 501.22 L619.99 501.23 L620.91 501.39 L621.7 501.67Z" fill="#000"/><path d="M634.6 506.58 L635.19 506.97 L635.52 507.41 L635.55 507.88 L635.28 508.32 L634.74 508.68 L622.48 514.57 L621.7 514.83 L620.79 514.96 L619.81 514.94 L618.88 514.78 L618.08 514.5 L605.19 508.22 L604.6 507.83 L604.28 507.38 L604.26 506.92 L604.55 506.48 L605.1 506.11 L617.35 500.3 L618.12 500.05 L619.02 499.92 L619.99 499.93 L620.91 500.09 L621.7 500.37Z"/><path d="M354.89 391.77 L355.35 392.08 L355.57 392.46 L355.51 392.84 L355.18 393.21 L354.61 393.51 L342.41 398.41 L341.66 398.63 L340.8 398.74 L339.93 398.73 L339.11 398.6 L338.44 398.36 L314.41 386.47 L313.96 386.15 L313.76 385.78 L313.84 385.4 L314.17 385.04 L314.74 384.74 L326.91 379.95 L327.65 379.73 L328.49 379.63 L329.36 379.64 L330.16 379.76 L330.82 379.99Z" fill="#000"/><path d="M353.95 390.03 L354.41 390.35 L354.62 390.72 L354.56 391.11 L354.23 391.47 L353.67 391.78 L341.46 396.68 L340.71 396.9 L339.86 397.01 L338.98 397 L338.17 396.87 L337.5 396.63 L313.47 384.73 L313.02 384.42 L312.82 384.05 L312.89 383.67 L313.23 383.31 L313.8 383.01 L325.97 378.21 L326.71 378 L327.55 377.89 L328.41 377.9 L329.21 378.03 L329.87 378.26Z"/><path d="M373.29 400.76 L373.76 401.09 L373.98 401.46 L373.92 401.86 L373.6 402.23 L373.03 402.54 L360.81 407.51 L360.05 407.73 L359.19 407.85 L358.31 407.83 L357.49 407.7 L356.81 407.46 L346.16 402.19 L345.69 401.86 L345.48 401.49 L345.55 401.09 L345.88 400.72 L346.45 400.41 L358.66 395.5 L359.4 395.28 L360.25 395.17 L361.13 395.18 L361.95 395.31 L362.62 395.55Z" fill="#000"/><path d="M372.44 399.08 L372.92 399.4 L373.13 399.78 L373.08 400.17 L372.75 400.54 L372.19 400.85 L359.96 405.82 L359.21 406.05 L358.35 406.16 L357.46 406.15 L356.64 406.01 L355.96 405.77 L345.31 400.5 L344.85 400.18 L344.64 399.8 L344.7 399.41 L345.04 399.04 L345.6 398.73 L357.81 393.81 L358.56 393.59 L359.41 393.48 L360.29 393.49 L361.1 393.62 L361.78 393.86Z"/><path d="M392 409.91 L392.48 410.24 L392.71 410.63 L392.66 411.02 L392.33 411.4 L391.77 411.71 L379.52 416.76 L378.76 416.99 L377.9 417.1 L377.01 417.09 L376.17 416.95 L375.49 416.71 L364.67 411.35 L364.2 411.03 L363.98 410.64 L364.04 410.24 L364.37 409.87 L364.94 409.56 L377.17 404.56 L377.92 404.34 L378.77 404.23 L379.66 404.24 L380.48 404.38 L381.16 404.62Z" fill="#000"/><path d="M391.23 408.26 L391.71 408.59 L391.94 408.97 L391.89 409.37 L391.56 409.75 L391 410.06 L378.75 415.11 L377.99 415.34 L377.13 415.45 L376.24 415.44 L375.4 415.3 L374.72 415.06 L363.9 409.7 L363.43 409.37 L363.21 408.99 L363.27 408.59 L363.6 408.22 L364.17 407.9 L376.4 402.91 L377.15 402.69 L378 402.58 L378.89 402.59 L379.71 402.72 L380.39 402.96Z"/><path d="M411 419.21 L411.49 419.54 L411.72 419.93 L411.68 420.33 L411.36 420.72 L410.8 421.04 L398.52 426.16 L397.77 426.39 L396.9 426.5 L396 426.49 L395.16 426.35 L394.46 426.1 L383.47 420.67 L382.99 420.33 L382.76 419.94 L382.82 419.54 L383.14 419.16 L383.71 418.84 L395.97 413.77 L396.72 413.55 L397.58 413.44 L398.47 413.45 L399.3 413.58 L400 413.83Z" fill="#000"/><path d="M410.31 417.59 L410.8 417.92 L411.03 418.31 L410.99 418.72 L410.67 419.1 L410.1 419.42 L397.83 424.54 L397.07 424.77 L396.2 424.89 L395.3 424.87 L394.46 424.74 L393.76 424.49 L382.78 419.05 L382.29 418.71 L382.07 418.32 L382.12 417.92 L382.45 417.54 L383.02 417.22 L395.28 412.16 L396.03 411.93 L396.89 411.82 L397.78 411.83 L398.61 411.96 L399.3 412.21Z"/><path d="M430.3 428.65 L430.8 428.99 L431.04 429.38 L431 429.79 L430.69 430.18 L430.13 430.5 L417.83 435.71 L417.07 435.94 L416.19 436.06 L415.29 436.04 L414.44 435.9 L413.73 435.65 L402.57 430.12 L402.08 429.78 L401.84 429.39 L401.89 428.98 L402.22 428.59 L402.78 428.27 L415.06 423.13 L415.82 422.9 L416.68 422.78 L417.58 422.8 L418.42 422.93 L419.12 423.18Z" fill="#000"/><path d="M429.68 427.06 L430.18 427.4 L430.43 427.8 L430.39 428.21 L430.07 428.6 L429.51 428.92 L417.21 434.12 L416.45 434.36 L415.58 434.47 L414.67 434.46 L413.82 434.32 L413.11 434.07 L401.95 428.54 L401.46 428.2 L401.23 427.81 L401.28 427.4 L401.6 427.01 L402.17 426.69 L414.45 421.54 L415.2 421.32 L416.07 421.2 L416.96 421.21 L417.81 421.35 L418.51 421.6Z"/><path d="M449.91 438.24 L450.42 438.58 L450.67 438.98 L450.64 439.4 L450.32 439.79 L449.76 440.12 L437.45 445.4 L436.68 445.64 L435.8 445.76 L434.89 445.75 L434.03 445.6 L433.31 445.34 L421.97 439.73 L421.47 439.39 L421.23 438.99 L421.27 438.57 L421.59 438.18 L422.16 437.85 L434.46 432.63 L435.21 432.4 L436.09 432.28 L436.99 432.29 L437.84 432.43 L438.55 432.69Z" fill="#000"/><path d="M449.37 436.69 L449.88 437.03 L450.13 437.43 L450.1 437.85 L449.79 438.25 L449.22 438.58 L436.91 443.86 L436.15 444.09 L435.26 444.21 L434.35 444.2 L433.49 444.06 L432.77 443.8 L421.43 438.18 L420.93 437.84 L420.69 437.44 L420.73 437.02 L421.05 436.63 L421.62 436.3 L433.92 431.08 L434.68 430.85 L435.55 430.73 L436.45 430.75 L437.3 430.89 L438.02 431.14Z"/><path d="M469.83 447.98 L470.35 448.33 L470.61 448.74 L470.58 449.16 L470.27 449.56 L469.71 449.9 L457.38 455.26 L456.61 455.5 L455.72 455.62 L454.8 455.6 L453.93 455.46 L453.21 455.2 L441.68 449.49 L441.17 449.14 L440.92 448.74 L440.96 448.31 L441.28 447.91 L441.84 447.58 L454.16 442.28 L454.92 442.05 L455.8 441.93 L456.71 441.94 L457.57 442.08 L458.29 442.34Z" fill="#000"/><path d="M469.37 446.47 L469.89 446.82 L470.15 447.23 L470.12 447.65 L469.82 448.05 L469.25 448.38 L456.92 453.75 L456.15 453.99 L455.27 454.11 L454.34 454.09 L453.47 453.95 L452.75 453.69 L441.23 447.98 L440.71 447.63 L440.47 447.23 L440.5 446.8 L440.82 446.4 L441.39 446.07 L453.71 440.77 L454.46 440.53 L455.34 440.42 L456.25 440.43 L457.11 440.57 L457.84 440.83Z"/><path d="M490.07 457.88 L490.6 458.24 L490.87 458.65 L490.85 459.08 L490.55 459.49 L489.99 459.83 L477.63 465.27 L476.86 465.52 L475.97 465.64 L475.04 465.62 L474.16 465.48 L473.42 465.21 L461.72 459.41 L461.19 459.06 L460.94 458.64 L460.97 458.21 L461.28 457.81 L461.85 457.47 L474.19 452.09 L474.95 451.85 L475.83 451.73 L476.75 451.74 L477.62 451.89 L478.35 452.15Z" fill="#000"/><path d="M489.7 456.41 L490.23 456.76 L490.49 457.18 L490.47 457.61 L490.17 458.01 L489.61 458.35 L477.25 463.8 L476.49 464.04 L475.59 464.16 L474.66 464.15 L473.78 464 L473.05 463.74 L461.34 457.94 L460.82 457.58 L460.56 457.17 L460.59 456.74 L460.9 456.34 L461.47 456 L473.81 450.62 L474.57 450.38 L475.45 450.26 L476.37 450.27 L477.24 450.41 L477.97 450.68Z"/><path d="M510.65 467.94 L511.19 468.3 L511.46 468.72 L511.45 469.16 L511.15 469.57 L510.59 469.92 L498.22 475.45 L497.45 475.7 L496.55 475.82 L495.61 475.81 L494.72 475.66 L493.97 475.39 L482.07 469.5 L481.54 469.13 L481.28 468.71 L481.3 468.28 L481.61 467.87 L482.17 467.52 L494.53 462.06 L495.29 461.81 L496.18 461.69 L497.11 461.7 L497.99 461.85 L498.73 462.12Z" fill="#000"/><path d="M510.35 466.51 L510.89 466.87 L511.17 467.29 L511.16 467.73 L510.85 468.14 L510.29 468.48 L497.92 474.01 L497.15 474.26 L496.25 474.39 L495.31 474.37 L494.43 474.22 L493.68 473.95 L481.78 468.06 L481.25 467.7 L480.98 467.28 L481 466.84 L481.31 466.43 L481.88 466.09 L494.24 460.62 L495 460.38 L495.89 460.26 L496.82 460.27 L497.7 460.42 L498.44 460.68Z"/><path d="M531.56 478.17 L532.11 478.54 L532.39 478.96 L532.39 479.41 L532.09 479.83 L531.53 480.18 L519.14 485.8 L518.37 486.05 L517.47 486.17 L516.52 486.16 L515.62 486.01 L514.86 485.73 L502.76 479.74 L502.22 479.37 L501.95 478.95 L501.96 478.5 L502.27 478.09 L502.83 477.74 L515.21 472.18 L515.98 471.94 L516.87 471.81 L517.81 471.83 L518.7 471.98 L519.45 472.25Z" fill="#000"/><path d="M531.35 476.77 L531.9 477.14 L532.18 477.57 L532.18 478.01 L531.88 478.43 L531.32 478.78 L518.93 484.4 L518.16 484.65 L517.25 484.78 L516.31 484.76 L515.41 484.61 L514.65 484.33 L502.55 478.35 L502.01 477.98 L501.74 477.55 L501.75 477.11 L502.06 476.69 L502.62 476.34 L515 470.79 L515.76 470.54 L516.66 470.42 L517.6 470.43 L518.48 470.58 L519.24 470.85Z"/><path d="M552.81 488.56 L553.37 488.94 L553.67 489.37 L553.67 489.82 L553.38 490.25 L552.82 490.61 L540.42 496.31 L539.64 496.57 L538.73 496.7 L537.78 496.68 L536.87 496.53 L536.1 496.25 L523.8 490.16 L523.25 489.78 L522.96 489.35 L522.97 488.9 L523.27 488.48 L523.84 488.12 L536.23 482.48 L537 482.23 L537.9 482.11 L538.84 482.12 L539.74 482.27 L540.5 482.55Z" fill="#000"/><path d="M552.69 487.21 L553.25 487.58 L553.54 488.01 L553.54 488.46 L553.25 488.89 L552.69 489.25 L540.29 494.96 L539.51 495.21 L538.6 495.34 L537.65 495.32 L536.74 495.17 L535.97 494.89 L523.67 488.8 L523.12 488.43 L522.83 487.99 L522.84 487.54 L523.15 487.12 L523.71 486.76 L536.1 481.12 L536.87 480.87 L537.77 480.75 L538.72 480.76 L539.61 480.91 L540.38 481.19Z"/><path d="M574.43 499.13 L575 499.51 L575.3 499.95 L575.31 500.41 L575.02 500.85 L574.47 501.21 L562.05 507.01 L561.27 507.27 L560.35 507.4 L559.39 507.38 L558.47 507.23 L557.69 506.94 L545.18 500.75 L544.62 500.37 L544.33 499.93 L544.33 499.47 L544.63 499.04 L545.19 498.68 L557.6 492.95 L558.37 492.69 L559.27 492.57 L560.23 492.58 L561.14 492.74 L561.91 493.01Z" fill="#000"/><path d="M574.39 497.81 L574.96 498.19 L575.26 498.64 L575.27 499.09 L574.98 499.53 L574.42 499.89 L562.01 505.69 L561.23 505.95 L560.31 506.08 L559.35 506.06 L558.43 505.91 L557.65 505.62 L545.14 499.43 L544.58 499.05 L544.29 498.61 L544.29 498.15 L544.58 497.72 L545.15 497.36 L557.56 491.63 L558.33 491.37 L559.23 491.25 L560.19 491.26 L561.09 491.42 L561.87 491.7Z"/><path d="M613.24 518.11 L613.83 518.5 L614.15 518.96 L614.18 519.43 L613.9 519.87 L613.34 520.25 L600.9 526.22 L600.12 526.48 L599.19 526.62 L598.21 526.6 L597.28 526.44 L596.47 526.14 L566.98 511.54 L566.4 511.15 L566.1 510.7 L566.09 510.24 L566.38 509.8 L566.95 509.43 L579.37 503.61 L580.14 503.35 L581.05 503.22 L582.02 503.24 L582.93 503.4 L583.72 503.68Z" fill="#000"/><path d="M613.24 516.81 L613.83 517.2 L614.15 517.66 L614.18 518.13 L613.9 518.57 L613.34 518.95 L600.9 524.92 L600.12 525.18 L599.19 525.32 L598.21 525.3 L597.28 525.14 L596.47 524.84 L566.98 510.24 L566.4 509.85 L566.1 509.4 L566.09 508.94 L566.38 508.5 L566.95 508.13 L579.37 502.31 L580.14 502.05 L581.05 501.92 L582.02 501.94 L582.93 502.1 L583.72 502.38Z"/><path d="M342.89 404.89 L343.35 405.22 L343.57 405.6 L343.5 405.99 L343.16 406.36 L342.59 406.68 L330.21 411.68 L329.45 411.9 L328.59 412.02 L327.7 412 L326.88 411.87 L326.21 411.63 L293.06 394.95 L292.61 394.63 L292.42 394.25 L292.5 393.87 L292.85 393.5 L293.42 393.2 L305.75 388.34 L306.5 388.12 L307.35 388.02 L308.22 388.03 L309.02 388.16 L309.68 388.39Z" fill="#000"/><path d="M341.88 403.13 L342.34 403.45 L342.55 403.83 L342.49 404.23 L342.15 404.6 L341.58 404.91 L329.2 409.91 L328.44 410.14 L327.58 410.25 L326.69 410.24 L325.87 410.11 L325.19 409.86 L292.05 393.18 L291.6 392.86 L291.41 392.49 L291.49 392.1 L291.83 391.74 L292.41 391.43 L304.74 386.58 L305.49 386.36 L306.34 386.25 L307.21 386.26 L308.01 386.39 L308.67 386.63Z"/><path d="M361.37 414.08 L361.84 414.41 L362.06 414.79 L362 415.19 L361.67 415.57 L361.1 415.89 L348.69 420.97 L347.93 421.2 L347.06 421.31 L346.17 421.3 L345.34 421.16 L344.65 420.91 L333.94 415.53 L333.48 415.19 L333.27 414.81 L333.34 414.41 L333.68 414.03 L334.26 413.72 L346.64 408.7 L347.4 408.47 L348.26 408.36 L349.14 408.37 L349.96 408.51 L350.64 408.75Z" fill="#000"/><path d="M360.48 412.37 L360.95 412.7 L361.17 413.08 L361.11 413.49 L360.78 413.86 L360.2 414.18 L347.8 419.26 L347.04 419.49 L346.17 419.6 L345.27 419.59 L344.44 419.45 L343.76 419.2 L333.05 413.82 L332.58 413.48 L332.38 413.1 L332.44 412.7 L332.78 412.32 L333.36 412.01 L345.75 406.99 L346.5 406.76 L347.36 406.65 L348.25 406.66 L349.07 406.8 L349.75 407.04Z"/><path d="M380.18 423.43 L380.67 423.77 L380.89 424.16 L380.84 424.56 L380.51 424.95 L379.94 425.27 L367.51 430.42 L366.74 430.66 L365.87 430.77 L364.97 430.76 L364.13 430.62 L363.43 430.37 L352.56 424.9 L352.08 424.56 L351.87 424.17 L351.93 423.76 L352.27 423.38 L352.84 423.06 L365.25 417.96 L366.01 417.74 L366.88 417.62 L367.77 417.63 L368.6 417.77 L369.29 418.02Z" fill="#000"/><path d="M379.37 421.76 L379.85 422.09 L380.08 422.48 L380.02 422.89 L379.69 423.27 L379.12 423.59 L366.69 428.75 L365.93 428.98 L365.05 429.1 L364.15 429.08 L363.31 428.94 L362.62 428.69 L351.74 423.22 L351.26 422.88 L351.05 422.49 L351.11 422.09 L351.45 421.7 L352.03 421.38 L364.44 416.29 L365.19 416.06 L366.06 415.95 L366.95 415.96 L367.78 416.1 L368.47 416.34Z"/><path d="M399.3 432.93 L399.79 433.27 L400.02 433.67 L399.97 434.08 L399.65 434.47 L399.08 434.8 L386.62 440.03 L385.86 440.27 L384.98 440.38 L384.07 440.37 L383.22 440.23 L382.51 439.97 L371.47 434.41 L370.98 434.07 L370.76 433.67 L370.81 433.26 L371.15 432.87 L371.73 432.55 L384.16 427.37 L384.92 427.14 L385.79 427.03 L386.69 427.04 L387.53 427.18 L388.23 427.43Z" fill="#000"/><path d="M398.56 431.29 L399.05 431.63 L399.28 432.03 L399.23 432.44 L398.91 432.83 L398.33 433.16 L385.88 438.39 L385.11 438.63 L384.23 438.74 L383.32 438.73 L382.48 438.59 L381.77 438.33 L370.72 432.77 L370.24 432.43 L370.02 432.04 L370.07 431.62 L370.41 431.23 L370.99 430.91 L383.42 425.74 L384.18 425.5 L385.05 425.39 L385.95 425.4 L386.79 425.54 L387.49 425.79Z"/><path d="M418.71 442.58 L419.22 442.93 L419.46 443.33 L419.41 443.75 L419.09 444.15 L418.52 444.48 L406.04 449.79 L405.28 450.03 L404.39 450.15 L403.47 450.14 L402.61 449.99 L401.9 449.73 L390.67 444.08 L390.18 443.74 L389.95 443.33 L390 442.91 L390.33 442.52 L390.91 442.19 L403.37 436.94 L404.13 436.7 L405.01 436.59 L405.91 436.6 L406.76 436.74 L407.47 436.99Z" fill="#000"/><path d="M418.05 440.98 L418.55 441.32 L418.79 441.73 L418.75 442.15 L418.43 442.54 L417.86 442.87 L405.38 448.19 L404.61 448.43 L403.72 448.54 L402.81 448.53 L401.95 448.39 L401.24 448.13 L390.01 442.48 L389.52 442.13 L389.28 441.73 L389.34 441.31 L389.67 440.92 L390.25 440.58 L402.7 435.33 L403.47 435.1 L404.34 434.98 L405.25 435 L406.1 435.14 L406.81 435.39Z"/><path d="M438.44 452.39 L438.95 452.74 L439.2 453.15 L439.17 453.58 L438.85 453.98 L438.28 454.31 L425.78 459.71 L425.01 459.95 L424.12 460.07 L423.19 460.06 L422.32 459.91 L421.6 459.65 L410.19 453.91 L409.69 453.56 L409.45 453.15 L409.5 452.72 L409.82 452.32 L410.4 451.98 L422.88 446.65 L423.65 446.41 L424.53 446.3 L425.44 446.31 L426.3 446.45 L427.02 446.71Z" fill="#000"/><path d="M437.86 450.82 L438.37 451.17 L438.62 451.58 L438.58 452.01 L438.26 452.41 L437.69 452.75 L425.2 458.14 L424.42 458.38 L423.53 458.5 L422.61 458.49 L421.74 458.35 L421.02 458.08 L409.61 452.34 L409.1 451.99 L408.86 451.58 L408.91 451.15 L409.24 450.75 L409.82 450.42 L422.3 445.08 L423.06 444.85 L423.94 444.73 L424.86 444.74 L425.72 444.88 L426.43 445.14Z"/><path d="M458.49 462.35 L459.01 462.71 L459.27 463.13 L459.24 463.56 L458.93 463.97 L458.35 464.31 L445.84 469.79 L445.06 470.04 L444.16 470.16 L443.23 470.14 L442.35 470 L441.62 469.73 L430.03 463.89 L429.51 463.53 L429.27 463.12 L429.31 462.69 L429.63 462.28 L430.21 461.94 L442.71 456.52 L443.48 456.28 L444.36 456.16 L445.29 456.18 L446.15 456.32 L446.88 456.58Z" fill="#000"/><path d="M457.99 460.82 L458.51 461.18 L458.77 461.59 L458.74 462.03 L458.42 462.44 L457.85 462.78 L445.33 468.26 L444.56 468.5 L443.66 468.63 L442.73 468.61 L441.85 468.46 L441.12 468.2 L429.52 462.36 L429.01 462 L428.76 461.59 L428.8 461.15 L429.12 460.75 L429.7 460.41 L442.2 454.99 L442.97 454.75 L443.86 454.63 L444.78 454.64 L445.65 454.79 L446.38 455.05Z"/><path d="M478.87 472.48 L479.4 472.84 L479.67 473.27 L479.64 473.71 L479.33 474.12 L478.76 474.47 L466.22 480.04 L465.44 480.28 L464.54 480.41 L463.6 480.39 L462.71 480.24 L461.97 479.97 L450.19 474.04 L449.66 473.68 L449.4 473.25 L449.44 472.81 L449.76 472.4 L450.34 472.05 L462.86 466.55 L463.63 466.31 L464.52 466.19 L465.45 466.2 L466.33 466.35 L467.07 466.62Z" fill="#000"/><path d="M478.44 470.99 L478.97 471.35 L479.24 471.77 L479.22 472.21 L478.91 472.63 L478.34 472.97 L465.8 478.54 L465.02 478.79 L464.12 478.91 L463.18 478.9 L462.29 478.75 L461.55 478.48 L449.76 472.55 L449.24 472.18 L448.98 471.76 L449.01 471.32 L449.34 470.91 L449.91 470.56 L462.43 465.06 L463.2 464.82 L464.1 464.69 L465.03 464.71 L465.91 464.86 L466.64 465.12Z"/><path d="M499.58 482.77 L500.12 483.14 L500.4 483.57 L500.38 484.02 L500.07 484.44 L499.5 484.8 L486.95 490.45 L486.16 490.7 L485.26 490.83 L484.31 490.81 L483.41 490.66 L482.65 490.38 L470.68 484.36 L470.14 483.99 L469.88 483.56 L469.9 483.11 L470.22 482.69 L470.79 482.34 L483.34 476.75 L484.11 476.5 L485.01 476.38 L485.95 476.39 L486.84 476.54 L487.58 476.81Z" fill="#000"/><path d="M499.24 481.32 L499.78 481.69 L500.05 482.12 L500.04 482.56 L499.73 482.99 L499.16 483.34 L486.6 488.99 L485.82 489.25 L484.91 489.37 L483.96 489.36 L483.07 489.2 L482.31 488.93 L470.33 482.9 L469.8 482.53 L469.53 482.1 L469.56 481.65 L469.88 481.23 L470.45 480.88 L483 475.29 L483.77 475.05 L484.67 474.92 L485.61 474.94 L486.49 475.09 L487.24 475.36Z"/><path d="M520.63 493.24 L521.18 493.61 L521.47 494.05 L521.46 494.51 L521.16 494.93 L520.59 495.29 L508.01 501.04 L507.23 501.3 L506.32 501.42 L505.36 501.41 L504.45 501.25 L503.69 500.97 L491.51 494.84 L490.96 494.46 L490.69 494.03 L490.71 493.57 L491.02 493.15 L491.59 492.79 L504.15 487.11 L504.93 486.86 L505.84 486.74 L506.78 486.75 L507.68 486.9 L508.44 487.18Z" fill="#000"/><path d="M520.38 491.82 L520.93 492.2 L521.21 492.63 L521.2 493.09 L520.9 493.52 L520.33 493.88 L507.76 499.62 L506.97 499.88 L506.06 500.01 L505.1 499.99 L504.19 499.83 L503.43 499.55 L491.25 493.42 L490.7 493.05 L490.43 492.61 L490.45 492.16 L490.76 491.73 L491.34 491.37 L503.9 485.7 L504.67 485.44 L505.58 485.32 L506.53 485.33 L507.42 485.49 L508.18 485.76Z"/><path d="M542.04 503.88 L542.6 504.26 L542.9 504.7 L542.9 505.17 L542.6 505.6 L542.03 505.97 L529.44 511.8 L528.65 512.07 L527.73 512.2 L526.76 512.18 L525.85 512.02 L525.07 511.74 L512.68 505.5 L512.13 505.12 L511.84 504.68 L511.86 504.21 L512.17 503.78 L512.74 503.42 L525.32 497.65 L526.1 497.39 L527.01 497.27 L527.96 497.28 L528.87 497.44 L529.64 497.72Z" fill="#000"/><path d="M541.87 502.5 L542.43 502.88 L542.73 503.33 L542.72 503.79 L542.42 504.22 L541.86 504.59 L529.27 510.43 L528.48 510.69 L527.56 510.82 L526.59 510.8 L525.68 510.64 L524.9 510.36 L512.51 504.12 L511.96 503.74 L511.67 503.3 L511.69 502.84 L512 502.4 L512.57 502.04 L525.15 496.27 L525.93 496.02 L526.84 495.89 L527.79 495.9 L528.7 496.06 L529.47 496.34Z"/><path d="M591.59 528.51 L592.18 528.9 L592.5 529.36 L592.52 529.84 L592.23 530.3 L591.66 530.67 L579.04 536.73 L578.25 537 L577.31 537.14 L576.32 537.12 L575.38 536.95 L574.58 536.66 L534.17 516.32 L533.6 515.93 L533.31 515.48 L533.31 515.01 L533.61 514.57 L534.19 514.2 L546.78 508.34 L547.56 508.08 L548.48 507.95 L549.45 507.96 L550.36 508.12 L551.14 508.41Z" fill="#000"/><path d="M591.56 527.19 L592.15 527.59 L592.47 528.05 L592.49 528.53 L592.2 528.98 L591.63 529.36 L579.01 535.42 L578.22 535.69 L577.28 535.82 L576.3 535.81 L575.36 535.64 L574.55 535.34 L534.14 515.01 L533.57 514.62 L533.28 514.17 L533.28 513.7 L533.59 513.25 L534.16 512.88 L546.75 507.03 L547.53 506.77 L548.45 506.64 L549.42 506.65 L550.33 506.81 L551.12 507.1Z"/><path d="M299.28 402.94 L299.73 403.27 L299.93 403.64 L299.85 404.04 L299.5 404.41 L298.92 404.72 L282.51 411.25 L281.74 411.48 L280.87 411.59 L279.99 411.58 L279.17 411.44 L278.51 411.2 L268.19 405.9 L267.75 405.58 L267.56 405.2 L267.65 404.81 L268.01 404.44 L268.6 404.12 L284.98 397.66 L285.74 397.44 L286.6 397.33 L287.47 397.35 L288.28 397.48 L288.94 397.72Z" fill="#000"/><path d="M298.13 401.11 L298.58 401.44 L298.78 401.82 L298.7 402.21 L298.35 402.58 L297.77 402.89 L281.36 409.43 L280.59 409.65 L279.72 409.76 L278.84 409.75 L278.02 409.62 L277.36 409.37 L267.04 404.08 L266.6 403.75 L266.41 403.37 L266.5 402.98 L266.86 402.61 L267.45 402.3 L283.83 395.84 L284.59 395.62 L285.45 395.51 L286.32 395.52 L287.13 395.65 L287.79 395.89Z"/><path d="M317.42 412.11 L317.88 412.44 L318.09 412.83 L318.01 413.22 L317.67 413.6 L317.09 413.92 L300.64 420.55 L299.87 420.78 L298.99 420.89 L298.1 420.88 L297.28 420.74 L296.61 420.49 L286.13 415.12 L285.67 414.78 L285.48 414.4 L285.57 414 L285.92 413.62 L286.51 413.31 L302.93 406.75 L303.69 406.53 L304.55 406.42 L305.43 406.43 L306.25 406.56 L306.92 406.8Z" fill="#000"/><path d="M316.34 410.32 L316.81 410.65 L317.01 411.03 L316.94 411.43 L316.59 411.81 L316.01 412.12 L299.56 418.76 L298.79 418.98 L297.92 419.1 L297.03 419.08 L296.2 418.95 L295.53 418.7 L285.05 413.32 L284.6 412.99 L284.4 412.61 L284.49 412.21 L284.84 411.83 L285.43 411.51 L301.85 404.96 L302.61 404.74 L303.48 404.62 L304.36 404.64 L305.17 404.77 L305.84 405.01Z"/><path d="M335.85 421.43 L336.32 421.76 L336.53 422.15 L336.46 422.56 L336.12 422.94 L335.54 423.26 L319.05 429.99 L318.28 430.22 L317.4 430.34 L316.5 430.32 L315.67 430.19 L314.99 429.93 L304.34 424.47 L303.88 424.13 L303.68 423.74 L303.76 423.34 L304.11 422.96 L304.7 422.64 L321.16 415.98 L321.92 415.76 L322.79 415.64 L323.68 415.65 L324.5 415.79 L325.18 416.04Z" fill="#000"/><path d="M334.84 419.67 L335.31 420 L335.53 420.39 L335.46 420.8 L335.11 421.18 L334.53 421.5 L318.05 428.23 L317.28 428.46 L316.4 428.58 L315.5 428.56 L314.67 428.43 L313.98 428.17 L303.34 422.71 L302.88 422.37 L302.68 421.98 L302.76 421.58 L303.11 421.2 L303.7 420.88 L320.16 414.22 L320.92 414 L321.79 413.88 L322.67 413.89 L323.5 414.03 L324.18 414.28Z"/><path d="M359.3 433.28 L359.78 433.62 L360 434.02 L359.94 434.43 L359.6 434.82 L359.02 435.15 L342.49 442.01 L341.72 442.24 L340.83 442.36 L339.92 442.35 L339.08 442.21 L338.39 441.95 L322.84 433.97 L322.37 433.63 L322.16 433.23 L322.23 432.82 L322.58 432.43 L323.17 432.11 L339.66 425.35 L340.43 425.12 L341.3 425.01 L342.2 425.02 L343.03 425.16 L343.72 425.41Z" fill="#000"/><path d="M358.38 431.56 L358.86 431.9 L359.08 432.3 L359.02 432.71 L358.68 433.1 L358.1 433.43 L341.57 440.29 L340.8 440.52 L339.91 440.64 L339 440.63 L338.16 440.49 L337.47 440.23 L321.92 432.25 L321.45 431.91 L321.24 431.51 L321.31 431.1 L321.66 430.71 L322.25 430.39 L338.74 423.63 L339.51 423.4 L340.38 423.29 L341.28 423.3 L342.11 423.44 L342.8 423.69Z"/><path d="M458.04 483.18 L458.57 483.55 L458.83 483.98 L458.8 484.43 L458.48 484.85 L457.9 485.2 L441.22 492.62 L440.43 492.87 L439.51 493 L438.56 492.98 L437.67 492.83 L436.93 492.55 L346.23 445.99 L345.75 445.65 L345.53 445.24 L345.6 444.82 L345.95 444.43 L346.53 444.09 L363.07 437.21 L363.84 436.98 L364.72 436.86 L365.63 436.87 L366.47 437.01 L367.17 437.27Z" fill="#000"/><path d="M457.36 481.57 L457.89 481.94 L458.15 482.37 L458.12 482.82 L457.8 483.24 L457.22 483.6 L440.54 491.01 L439.75 491.26 L438.84 491.39 L437.89 491.37 L437 491.22 L436.25 490.94 L345.56 444.38 L345.08 444.04 L344.86 443.63 L344.93 443.21 L345.27 442.82 L345.86 442.48 L362.4 435.6 L363.16 435.37 L364.04 435.25 L364.95 435.26 L365.79 435.4 L366.49 435.66Z"/><path d="M483.82 496.22 L484.36 496.6 L484.63 497.04 L484.61 497.49 L484.29 497.92 L483.72 498.28 L467 505.85 L466.21 506.1 L465.29 506.23 L464.33 506.22 L463.42 506.06 L462.66 505.78 L445.45 496.94 L444.92 496.57 L444.66 496.13 L444.7 495.67 L445.03 495.24 L445.61 494.89 L462.3 487.45 L463.09 487.19 L463.99 487.07 L464.94 487.08 L465.83 487.24 L466.58 487.51Z" fill="#000"/><path d="M483.39 494.73 L483.94 495.1 L484.21 495.54 L484.19 496 L483.87 496.43 L483.29 496.79 L466.58 504.35 L465.78 504.61 L464.86 504.74 L463.9 504.72 L463 504.57 L462.24 504.28 L445.03 495.45 L444.5 495.07 L444.24 494.63 L444.28 494.18 L444.6 493.75 L445.19 493.39 L461.88 485.95 L462.66 485.7 L463.57 485.57 L464.52 485.59 L465.41 485.74 L466.16 486.02Z"/><path d="M504.94 506.9 L505.49 507.28 L505.78 507.73 L505.76 508.19 L505.45 508.63 L504.87 508.99 L488.13 516.68 L487.33 516.94 L486.41 517.07 L485.44 517.06 L484.52 516.9 L483.75 516.61 L471.53 510.33 L470.99 509.95 L470.72 509.5 L470.74 509.04 L471.07 508.6 L471.65 508.24 L488.37 500.65 L489.16 500.39 L490.08 500.26 L491.03 500.28 L491.94 500.43 L492.7 500.71Z" fill="#000"/><path d="M504.61 505.45 L505.16 505.83 L505.45 506.28 L505.43 506.74 L505.12 507.18 L504.54 507.54 L487.8 515.23 L487.01 515.49 L486.08 515.62 L485.11 515.61 L484.2 515.45 L483.43 515.16 L471.2 508.88 L470.66 508.5 L470.39 508.05 L470.42 507.59 L470.74 507.15 L471.33 506.78 L488.05 499.2 L488.83 498.94 L489.75 498.81 L490.71 498.83 L491.61 498.98 L492.37 499.26Z"/><path d="M526.43 517.76 L526.99 518.15 L527.29 518.6 L527.28 519.08 L526.97 519.52 L526.39 519.89 L509.63 527.7 L508.83 527.97 L507.9 528.1 L506.92 528.09 L505.99 527.92 L505.21 527.63 L492.78 521.25 L492.23 520.86 L491.95 520.4 L491.97 519.93 L492.29 519.49 L492.87 519.11 L509.62 511.4 L510.41 511.14 L511.33 511.01 L512.29 511.03 L513.21 511.19 L513.98 511.47Z" fill="#000"/><path d="M526.19 516.35 L526.75 516.74 L527.04 517.19 L527.04 517.66 L526.73 518.11 L526.15 518.48 L509.39 526.29 L508.59 526.56 L507.65 526.69 L506.68 526.68 L505.75 526.51 L504.97 526.22 L492.54 519.84 L491.99 519.45 L491.71 518.99 L491.72 518.52 L492.04 518.08 L492.63 517.7 L509.38 509.99 L510.16 509.73 L511.09 509.6 L512.05 509.62 L512.97 509.77 L513.74 510.06Z"/><path d="M548.28 528.81 L548.86 529.21 L549.16 529.67 L549.16 530.15 L548.86 530.6 L548.28 530.98 L531.5 538.91 L530.7 539.19 L529.76 539.32 L528.77 539.3 L527.83 539.14 L527.04 538.84 L514.4 532.35 L513.83 531.95 L513.54 531.49 L513.55 531.01 L513.87 530.56 L514.45 530.18 L531.22 522.34 L532.01 522.08 L532.94 521.94 L533.92 521.96 L534.84 522.12 L535.63 522.41Z" fill="#000"/><path d="M548.13 527.44 L548.71 527.83 L549.01 528.3 L549.01 528.77 L548.71 529.23 L548.13 529.6 L531.34 537.54 L530.54 537.82 L529.6 537.95 L528.61 537.93 L527.68 537.77 L526.89 537.47 L514.24 530.98 L513.68 530.58 L513.39 530.12 L513.4 529.64 L513.71 529.19 L514.3 528.81 L531.07 520.97 L531.86 520.7 L532.79 520.57 L533.76 520.59 L534.69 520.75 L535.47 521.04Z"/><path d="M570.52 540.05 L571.1 540.45 L571.42 540.92 L571.43 541.41 L571.13 541.87 L570.55 542.25 L553.74 550.32 L552.94 550.6 L551.99 550.73 L551 550.72 L550.05 550.55 L549.25 550.24 L536.38 543.64 L535.81 543.24 L535.51 542.77 L535.51 542.28 L535.82 541.82 L536.4 541.43 L553.2 533.47 L553.99 533.2 L554.92 533.06 L555.91 533.08 L556.84 533.24 L557.64 533.54Z" fill="#000"/><path d="M570.45 538.72 L571.04 539.12 L571.35 539.59 L571.36 540.08 L571.06 540.53 L570.48 540.92 L553.68 548.99 L552.87 549.27 L551.93 549.4 L550.93 549.39 L549.99 549.22 L549.18 548.91 L536.32 542.31 L535.74 541.91 L535.44 541.44 L535.44 540.95 L535.75 540.49 L536.34 540.1 L553.13 532.14 L553.92 531.87 L554.86 531.73 L555.84 531.75 L556.78 531.91 L557.57 532.21Z"/></g>
<g fill="none" stroke="#000">
<line x1="178" y1="428.6" x2="488.8" y2="596.6" stroke-width="1.3" stroke-dasharray="14 3 26 3" stroke-dashoffset="37.3"/>
<line x1="181.3" y1="426.9" x2="222" y2="410.7" stroke-width="1.3" />
<line x1="489.5" y1="596.2" x2="534" y2="573" stroke-width="1.3" />
</g>
<path d="M226.8 408.8 L221.11 413.97 L220.78 411.2 L219.11 408.95 Z" fill="#000" stroke="none"/>
<path d="M538.9 570.5 L533.76 576.22 L533.15 573.49 L531.27 571.43 Z" fill="#000" stroke="none"/>
<clipPath id="kc"><path d="M678.5 492.68 L678.7 492.79 L678.86 492.92 L678.96 493.06 L679 493.2 L678.99 493.34 L678.91 493.48 L678.78 493.6 L678.6 493.71 L554.44 553.53 L554.2 553.63 L553.93 553.69 L553.63 553.73 L553.32 553.74 L553.01 553.72 L552.71 553.67 L552.43 553.59 L552.19 553.49 L260.39 403.36 L260.24 403.26 L260.13 403.15 L260.08 403.03 L260.08 402.91 L260.14 402.78 L260.24 402.67 L260.4 402.56 L260.6 402.47 L382.02 354.68 L382.23 354.61 L382.47 354.56 L382.73 354.53 L383 354.52 L383.26 354.54 L383.51 354.57 L383.74 354.63 L383.94 354.71Z"/></clipPath>
<circle cx="335.4" cy="385.9" r="30.7" fill="none" stroke="#fff" stroke-width="3" clip-path="url(#kc)"/>
<g fill="none" stroke="#000" stroke-width="1.2" stroke-dasharray="10 1.7 3.5 1.7">
<circle cx="335.4" cy="385.9" r="30.7" stroke-dasharray="8 2 3 2"/>
<line x1="149.94" y1="307.76" x2="319.3" y2="412.04" stroke-width="1.2" />
<line x1="295.12" y1="188.72" x2="364.19" y2="375.24" stroke-width="1.2" />
</g>
<clipPath id="cb"><circle cx="202" cy="223.2" r="99.3"/></clipPath>
<circle cx="202" cy="223.2" r="99.3" fill="#fff" stroke="none"/>
<g clip-path="url(#cb)">
<g fill="#fff" stroke="#000" stroke-width="1.8" stroke-linejoin="round"><path d="M358.63 166.22 L359.37 166.65 L359.89 167.14 L360.18 167.66 L360.23 168.2 L360.04 168.74 L359.6 169.26 L358.94 169.73 L358.09 170.14 L312.84 188.14 L311.82 188.48 L310.67 188.73 L309.44 188.87 L308.18 188.91 L306.94 188.84 L305.76 188.66 L304.69 188.39 L303.77 188.03 L264.08 169 L263.35 168.57 L262.84 168.08 L262.56 167.56 L262.53 167.02 L262.74 166.48 L263.18 165.97 L263.85 165.5 L264.71 165.09 L309.9 147.29 L310.91 146.96 L312.04 146.72 L313.26 146.58 L314.51 146.54 L315.74 146.6 L316.9 146.77 L317.96 147.04 L318.88 147.39Z" fill="#fff"/><path d="M358.63 162.22 L359.37 162.65 L359.89 163.14 L360.18 163.66 L360.23 164.2 L360.04 164.74 L359.6 165.26 L358.94 165.73 L358.09 166.14 L312.84 184.14 L311.82 184.48 L310.67 184.73 L309.44 184.87 L308.18 184.91 L306.94 184.84 L305.76 184.66 L304.69 184.39 L303.77 184.03 L264.08 165 L263.35 164.57 L262.84 164.08 L262.56 163.56 L262.53 163.02 L262.74 162.48 L263.18 161.97 L263.85 161.5 L264.71 161.09 L309.9 143.29 L310.91 142.96 L312.04 142.72 L313.26 142.58 L314.51 142.54 L315.74 142.6 L316.9 142.77 L317.96 143.04 L318.88 143.39Z"/><path d="M320.23 208.17 L320.97 208.61 L321.5 209.11 L321.79 209.64 L321.83 210.2 L321.63 210.75 L321.18 211.27 L320.52 211.75 L319.65 212.17 L273.77 230.54 L272.73 230.89 L271.57 231.14 L270.33 231.28 L269.05 231.32 L267.8 231.25 L266.61 231.07 L265.53 230.8 L264.6 230.43 L194.69 196.36 L193.96 195.92 L193.46 195.43 L193.18 194.9 L193.16 194.35 L193.38 193.81 L193.84 193.29 L194.51 192.81 L195.39 192.39 L241.16 174.36 L242.18 174.03 L243.33 173.79 L244.55 173.64 L245.81 173.61 L247.05 173.67 L248.22 173.85 L249.28 174.12 L250.19 174.47Z" fill="#fff"/><path d="M320.23 204.17 L320.97 204.61 L321.5 205.11 L321.79 205.64 L321.83 206.2 L321.63 206.75 L321.18 207.27 L320.52 207.75 L319.65 208.17 L273.77 226.54 L272.73 226.89 L271.57 227.14 L270.33 227.28 L269.05 227.32 L267.8 227.25 L266.61 227.07 L265.53 226.8 L264.6 226.43 L194.69 192.36 L193.96 191.92 L193.46 191.43 L193.18 190.9 L193.16 190.35 L193.38 189.81 L193.84 189.29 L194.51 188.81 L195.39 188.39 L241.16 170.36 L242.18 170.03 L243.33 169.79 L244.55 169.64 L245.81 169.61 L247.05 169.67 L248.22 169.85 L249.28 170.12 L250.19 170.47Z"/><path d="M381.67 237.74 L382.43 238.18 L382.96 238.68 L383.26 239.23 L383.32 239.79 L383.12 240.35 L382.68 240.88 L382.01 241.37 L381.15 241.79 L335.18 260.44 L334.14 260.78 L332.97 261.04 L331.72 261.19 L330.44 261.22 L329.17 261.15 L327.97 260.97 L326.88 260.69 L325.94 260.32 L285.43 240.57 L284.68 240.13 L284.16 239.63 L283.87 239.08 L283.83 238.52 L284.04 237.97 L284.5 237.43 L285.17 236.94 L286.05 236.52 L331.95 218.1 L332.98 217.75 L334.13 217.51 L335.37 217.36 L336.64 217.32 L337.89 217.39 L339.08 217.57 L340.16 217.85 L341.09 218.21Z" fill="#fff"/><path d="M381.67 233.74 L382.43 234.18 L382.96 234.68 L383.26 235.23 L383.32 235.79 L383.12 236.35 L382.68 236.88 L382.01 237.37 L381.15 237.79 L335.18 256.44 L334.14 256.78 L332.97 257.04 L331.72 257.19 L330.44 257.22 L329.17 257.15 L327.97 256.97 L326.88 256.69 L325.94 256.32 L285.43 236.57 L284.68 236.13 L284.16 235.63 L283.87 235.08 L283.83 234.52 L284.04 233.97 L284.5 233.43 L285.17 232.94 L286.05 232.52 L331.95 214.1 L332.98 213.75 L334.13 213.51 L335.37 213.36 L336.64 213.32 L337.89 213.39 L339.08 213.57 L340.16 213.85 L341.09 214.21Z"/><path d="M265.74 243.52 L266.48 243.97 L267 244.47 L267.29 245.01 L267.33 245.58 L267.11 246.14 L266.66 246.67 L265.98 247.16 L265.1 247.59 L218.59 266.27 L217.54 266.62 L216.36 266.87 L215.11 267.02 L213.82 267.06 L212.56 266.99 L211.36 266.81 L210.28 266.52 L209.35 266.15 L124.38 224.08 L123.67 223.63 L123.16 223.14 L122.9 222.6 L122.88 222.04 L123.11 221.49 L123.58 220.96 L124.28 220.48 L125.16 220.06 L171.53 201.79 L172.57 201.45 L173.72 201.21 L174.96 201.06 L176.22 201.03 L177.46 201.09 L178.64 201.27 L179.7 201.54 L180.62 201.91Z" fill="#fff"/><path d="M265.74 239.52 L266.48 239.97 L267 240.47 L267.29 241.01 L267.33 241.58 L267.11 242.14 L266.66 242.67 L265.98 243.16 L265.1 243.59 L218.59 262.27 L217.54 262.62 L216.36 262.87 L215.11 263.02 L213.82 263.06 L212.56 262.99 L211.36 262.81 L210.28 262.52 L209.35 262.15 L124.38 220.08 L123.67 219.63 L123.16 219.14 L122.9 218.6 L122.88 218.04 L123.11 217.49 L123.58 216.96 L124.28 216.48 L125.16 216.06 L171.53 197.79 L172.57 197.45 L173.72 197.21 L174.96 197.06 L176.22 197.03 L177.46 197.09 L178.64 197.27 L179.7 197.54 L180.62 197.91Z"/><path d="M327.29 273.61 L328.04 274.06 L328.57 274.57 L328.87 275.12 L328.91 275.69 L328.71 276.26 L328.26 276.8 L327.58 277.3 L326.7 277.73 L280.1 296.69 L279.04 297.05 L277.86 297.3 L276.6 297.45 L275.31 297.49 L274.03 297.42 L272.82 297.24 L271.73 296.95 L270.79 296.57 L230.2 276.47 L229.46 276.02 L228.94 275.51 L228.66 274.96 L228.63 274.39 L228.85 273.82 L229.31 273.28 L230 272.78 L230.89 272.35 L277.42 253.61 L278.46 253.27 L279.63 253.02 L280.88 252.87 L282.15 252.83 L283.42 252.9 L284.61 253.08 L285.7 253.36 L286.63 253.73Z" fill="#fff"/><path d="M327.29 269.61 L328.04 270.06 L328.57 270.57 L328.87 271.12 L328.91 271.69 L328.71 272.26 L328.26 272.8 L327.58 273.3 L326.7 273.73 L280.1 292.69 L279.04 293.05 L277.86 293.3 L276.6 293.45 L275.31 293.49 L274.03 293.42 L272.82 293.24 L271.73 292.95 L270.79 292.57 L230.2 272.47 L229.46 272.02 L228.94 271.51 L228.66 270.96 L228.63 270.39 L228.85 269.82 L229.31 269.28 L230 268.78 L230.89 268.35 L277.42 249.61 L278.46 249.27 L279.63 249.02 L280.88 248.87 L282.15 248.83 L283.42 248.9 L284.61 249.08 L285.7 249.36 L286.63 249.73Z"/><path d="M389.79 304.16 L390.55 304.62 L391.1 305.14 L391.4 305.7 L391.46 306.28 L391.26 306.86 L390.81 307.41 L390.14 307.91 L389.26 308.35 L342.57 327.59 L341.51 327.95 L340.33 328.21 L339.06 328.36 L337.75 328.4 L336.47 328.33 L335.24 328.14 L334.13 327.85 L333.18 327.46 L291.96 307.06 L291.21 306.6 L290.68 306.08 L290.38 305.52 L290.34 304.94 L290.56 304.36 L291.01 303.81 L291.7 303.31 L292.59 302.87 L339.21 283.85 L340.26 283.5 L341.43 283.25 L342.68 283.1 L343.97 283.06 L345.25 283.13 L346.46 283.31 L347.56 283.6 L348.5 283.98Z" fill="#fff"/><path d="M389.79 300.16 L390.55 300.62 L391.1 301.14 L391.4 301.7 L391.46 302.28 L391.26 302.86 L390.81 303.41 L390.14 303.91 L389.26 304.35 L342.57 323.59 L341.51 323.95 L340.33 324.21 L339.06 324.36 L337.75 324.4 L336.47 324.33 L335.24 324.14 L334.13 323.85 L333.18 323.46 L291.96 303.06 L291.21 302.6 L290.68 302.08 L290.38 301.52 L290.34 300.94 L290.56 300.36 L291.01 299.81 L291.7 299.31 L292.59 298.87 L339.21 279.85 L340.26 279.5 L341.43 279.25 L342.68 279.1 L343.97 279.06 L345.25 279.13 L346.46 279.31 L347.56 279.6 L348.5 279.98Z"/><path d="M225.64 287.08 L226.38 287.53 L226.91 288.05 L227.19 288.61 L227.22 289.18 L227 289.75 L226.53 290.3 L225.84 290.8 L224.95 291.23 L177.77 310.3 L176.71 310.66 L175.52 310.92 L174.25 311.07 L172.95 311.11 L171.67 311.04 L170.47 310.85 L169.37 310.56 L168.44 310.18 L53.16 252.16 L52.45 251.71 L51.95 251.2 L51.69 250.66 L51.69 250.1 L51.93 249.54 L52.41 249 L53.12 248.51 L54.01 248.09 L100.99 229.58 L102.04 229.24 L103.21 228.99 L104.45 228.84 L105.73 228.8 L106.98 228.87 L108.16 229.05 L109.22 229.33 L110.13 229.7Z" fill="#fff"/><path d="M225.64 283.08 L226.38 283.53 L226.91 284.05 L227.19 284.61 L227.22 285.18 L227 285.75 L226.53 286.3 L225.84 286.8 L224.95 287.23 L177.77 306.3 L176.71 306.66 L175.52 306.92 L174.25 307.07 L172.95 307.11 L171.67 307.04 L170.47 306.85 L169.37 306.56 L168.44 306.18 L53.16 248.16 L52.45 247.71 L51.95 247.2 L51.69 246.66 L51.69 246.1 L51.93 245.54 L52.41 245 L53.12 244.51 L54.01 244.09 L100.99 225.58 L102.04 225.24 L103.21 224.99 L104.45 224.84 L105.73 224.8 L106.98 224.87 L108.16 225.05 L109.22 225.33 L110.13 225.7Z"/><path d="M287.52 317.82 L288.28 318.28 L288.81 318.81 L289.11 319.37 L289.15 319.96 L288.93 320.54 L288.47 321.09 L287.78 321.6 L286.89 322.04 L239.62 341.39 L238.55 341.76 L237.35 342.02 L236.08 342.17 L234.77 342.21 L233.48 342.14 L232.26 341.95 L231.16 341.66 L230.21 341.27 L189.41 320.73 L188.66 320.27 L188.14 319.75 L187.86 319.18 L187.84 318.6 L188.06 318.02 L188.54 317.47 L189.24 316.96 L190.14 316.52 L237.34 297.39 L238.39 297.04 L239.57 296.78 L240.84 296.63 L242.13 296.59 L243.4 296.66 L244.61 296.85 L245.71 297.13 L246.65 297.51Z" fill="#fff"/><path d="M287.52 313.82 L288.28 314.28 L288.81 314.81 L289.11 315.37 L289.15 315.96 L288.93 316.54 L288.47 317.09 L287.78 317.6 L286.89 318.04 L239.62 337.39 L238.55 337.76 L237.35 338.02 L236.08 338.17 L234.77 338.21 L233.48 338.14 L232.26 337.95 L231.16 337.66 L230.21 337.27 L189.41 316.73 L188.66 316.27 L188.14 315.75 L187.86 315.18 L187.84 314.6 L188.06 314.02 L188.54 313.47 L189.24 312.96 L190.14 312.52 L237.34 293.39 L238.39 293.04 L239.57 292.78 L240.84 292.63 L242.13 292.59 L243.4 292.66 L244.61 292.85 L245.71 293.13 L246.65 293.51Z"/><path d="M140.74 311 L141.48 311.46 L141.99 311.98 L142.27 312.55 L142.29 313.13 L142.05 313.7 L141.57 314.26 L140.87 314.76 L139.96 315.2 L79.16 339.72 L78.08 340.08 L76.88 340.34 L75.6 340.5 L74.29 340.54 L73.01 340.46 L71.8 340.27 L70.71 339.98 L69.78 339.59 L29.85 319.09 L29.12 318.63 L28.62 318.1 L28.36 317.54 L28.36 316.96 L28.61 316.38 L29.1 315.83 L29.82 315.32 L30.74 314.88 L91.43 290.65 L92.5 290.3 L93.69 290.05 L94.95 289.9 L96.24 289.86 L97.51 289.93 L98.7 290.11 L99.79 290.4 L100.71 290.78Z" fill="#fff"/><path d="M140.74 307 L141.48 307.46 L141.99 307.98 L142.27 308.55 L142.29 309.13 L142.05 309.7 L141.57 310.26 L140.87 310.76 L139.96 311.2 L79.16 335.72 L78.08 336.08 L76.88 336.34 L75.6 336.5 L74.29 336.54 L73.01 336.46 L71.8 336.27 L70.71 335.98 L69.78 335.59 L29.85 315.09 L29.12 314.63 L28.62 314.1 L28.36 313.54 L28.36 312.96 L28.61 312.38 L29.1 311.83 L29.82 311.32 L30.74 310.88 L91.43 286.65 L92.5 286.3 L93.69 286.05 L94.95 285.9 L96.24 285.86 L97.51 285.93 L98.7 286.11 L99.79 286.4 L100.71 286.78Z"/><path d="M202.3 342.1 L203.05 342.57 L203.57 343.1 L203.86 343.67 L203.88 344.26 L203.66 344.84 L203.18 345.4 L202.48 345.92 L201.57 346.36 L140.64 371.25 L139.56 371.62 L138.35 371.88 L137.06 372.04 L135.75 372.08 L134.45 372 L133.23 371.81 L132.12 371.51 L131.18 371.12 L90.62 350.29 L89.88 349.82 L89.37 349.29 L89.1 348.72 L89.09 348.13 L89.33 347.54 L89.82 346.98 L90.54 346.47 L91.45 346.02 L152.28 321.43 L153.35 321.07 L154.54 320.81 L155.82 320.66 L157.12 320.62 L158.4 320.7 L159.61 320.88 L160.7 321.17 L161.64 321.56Z" fill="#fff"/><path d="M202.3 338.1 L203.05 338.57 L203.57 339.1 L203.86 339.67 L203.88 340.26 L203.66 340.84 L203.18 341.4 L202.48 341.92 L201.57 342.36 L140.64 367.25 L139.56 367.62 L138.35 367.88 L137.06 368.04 L135.75 368.08 L134.45 368 L133.23 367.81 L132.12 367.51 L131.18 367.12 L90.62 346.29 L89.88 345.82 L89.37 345.29 L89.1 344.72 L89.09 344.13 L89.33 343.54 L89.82 342.98 L90.54 342.47 L91.45 342.02 L152.28 317.43 L153.35 317.07 L154.54 316.81 L155.82 316.66 L157.12 316.62 L158.4 316.7 L159.61 316.88 L160.7 317.17 L161.64 317.56Z"/></g>
<g fill="none" stroke="#000"><line x1="131.5" y1="154.6" x2="207.6" y2="125" stroke-width="1.9" /></g>
</g>
<circle cx="202" cy="223.2" r="99.3" fill="none" stroke="#000" stroke-width="1.3" stroke-dasharray="10 1.7 3.5 1.7"/>
<g fill="none" stroke="#000">
<line x1="143.3" y1="196.1" x2="272.5" y2="260" stroke-width="1.3" stroke-dasharray="14 3 26 3" stroke-dashoffset="30"/>
<line x1="143.3" y1="196.1" x2="194.5" y2="175.8" stroke-width="1.3" stroke-dasharray="22 3.5 40 3.5"/>
<line x1="272.5" y1="260" x2="324.5" y2="239.5" stroke-width="1.3" stroke-dasharray="25 3.5 40 3.5"/>
</g>
<path d="M199.4 173.8 L193.71 178.97 L193.38 176.19 L191.71 173.95 Z" fill="#000" stroke="none"/>
<path d="M329.5 237.5 L323.79 242.66 L323.47 239.88 L321.81 237.63 Z" fill="#000" stroke="none"/>
<g fill="none" stroke="#000" stroke-width="1.2" stroke-linecap="round">
<path d="M643.4 38.4 C643.05 39 640.8 40.3 641.3 42 C641.8 43.7 645.68 46.1 646.4 48.6 C647.12 51.1 645.73 55.6 645.6 57" stroke-width="1.45" />
<path d="M369.3 130.4 C370.97 130.83 375.2 133.52 379.3 133 C383.4 132.48 389.87 128.2 393.9 127.3 C397.93 126.4 401.15 127.38 403.5 127.6 C405.85 127.82 407.25 128.43 408 128.6" stroke-width="1.25" />
<path d="M407.2 124.6 C407.43 125.27 408.93 127.37 408.6 128.6 C408.27 129.83 405.53 130.82 405.2 132 C404.87 133.18 406.37 135.08 406.6 135.7" stroke-width="1.25" />
<path d="M371.3 182.3 C372.85 182.75 376.83 185.45 380.6 185 C384.37 184.55 390.23 180.18 393.9 179.6 C397.57 179.02 401.15 181.18 402.6 181.5" stroke-width="1.25" />
<path d="M379.3 301.7 C380.3 302.18 383.75 302.12 385.3 304.6 C386.85 307.08 387.83 312.38 388.6 316.6 C389.37 320.82 389.12 326.12 389.9 329.9 C390.68 333.68 391.63 336.85 393.3 339.3 C394.97 341.75 398.8 343.72 399.9 344.6" stroke-width="1.25" />
<path d="M369.3 331.9 C369.63 332.68 371.75 334.48 371.3 336.6 C370.85 338.72 367.78 342.15 366.6 344.6 C365.42 347.05 364.33 349.07 364.2 351.3 C364.07 353.53 365.53 356.88 365.8 358" stroke-width="1.45" />
<path d="M772.6 211 C771.82 211.6 768.8 212.88 767.9 214.6 C767 216.32 768.43 219.43 767.2 221.3 C765.97 223.17 761.62 225.05 760.5 225.8" stroke-width="1.45" />
<path d="M730.5 295.3 C731.42 294.97 733.32 292.75 736 293.3 C738.68 293.85 743.5 298.05 746.6 298.6 C749.7 299.15 753.27 296.93 754.6 296.6" stroke-width="1.25" />
<path d="M745.2 516.3 C744.32 515.68 740.78 514.1 739.9 512.6 C739.02 511.1 740.97 509.15 739.9 507.3 C738.83 505.45 734.57 502.47 733.5 501.5" stroke-width="1.45" />
<path d="M682 521.3 C682.22 522.08 683.87 523.68 683.3 526 C682.73 528.32 679.48 533 678.6 535.2 C677.72 537.4 677.67 537.63 678 539.2 C678.33 540.77 680.17 543.7 680.6 544.6" stroke-width="1.25" />
<path d="M639.9 514 C640.45 515.67 643.65 519.9 643.2 524 C642.75 528.1 638.3 535.05 637.2 538.6 C636.1 542.15 636.2 542.97 636.6 545.3 C637 547.63 639.1 551.38 639.6 552.6" stroke-width="1.25" />
<path d="M588.6 549.3 C589.05 550.63 591.73 553.52 591.3 557.3 C590.87 561.08 587.07 568.45 586 572 C584.93 575.55 584.68 576.28 584.9 578.6 C585.12 580.92 586.9 584.68 587.3 585.9" stroke-width="1.25" />
<path d="M581.3 548.7 C582.08 548.92 584.12 550.12 586 550 C587.88 549.88 591.5 548.33 592.6 548" stroke-width="1.25" />
<path d="M637.9 599.3 C637.45 598.4 636.75 594.9 635.2 593.9 C633.65 592.9 630.4 594.07 628.6 593.3 C626.8 592.53 625.1 589.97 624.4 589.3" stroke-width="1.45" />
<path d="M293 523.2 C293.58 524.32 296.35 527.45 296.5 529.9 C296.65 532.35 293.77 535.23 293.9 537.9 C294.03 540.57 296.73 544.57 297.3 545.9" stroke-width="1.25" />
<path d="M136.2 186.3 C136.67 187.33 139.03 190.05 139 192.5 C138.97 194.95 136.08 198.17 136 201 C135.92 203.83 138.08 208.08 138.5 209.5" stroke-width="1.25" />
</g>
<path d="M643.3 62.6 L642.63 54.46 L645.28 56.05 L648.37 56.19 Z" fill="#000" stroke="none"/>
<path d="M368 365.2 L362.99 358.75 L366.08 358.64 L368.74 357.06 Z" fill="#000" stroke="none"/>
<path d="M754.6 228.3 L760.16 222.31 L760.77 225.35 L762.75 227.73 Z" fill="#000" stroke="none"/>
<path d="M728.2 498.6 L736.27 499.86 L734.1 502.06 L733.24 505.03 Z" fill="#000" stroke="none"/>
<path d="M619.9 582.3 L626.57 587.02 L623.64 588.03 L621.54 590.3 Z" fill="#000" stroke="none"/>
<text transform="translate(628.3 35) scale(1 1.04)" font-size="15.3">104</text>
<text transform="translate(344.3 134.9) scale(1 1.04)" font-size="15.3">114</text>
<text transform="translate(347 186.6) scale(1 1.04)" font-size="15.3">112</text>
<text transform="translate(355.6 306.6) scale(1 1.04)" font-size="15.3">110</text>
<text transform="translate(353 328.9) scale(1 1.04)" font-size="15.3">120</text>
<text transform="translate(772.9 215.3) scale(1 1.04)" font-size="15.3">109a</text>
<text transform="translate(754.9 301.5) scale(1 1.04)" font-size="15.3">108a</text>
<text transform="translate(748.9 521.9) scale(1 1.04)" font-size="15.3">108</text>
<text transform="translate(671.6 558.5) scale(1 1.04)" font-size="15.3">108b</text>
<text transform="translate(630.9 567.2) scale(1 1.04)" font-size="15.3">118</text>
<text transform="translate(577.6 601.9) scale(1 1.04)" font-size="15.3">116</text>
<text transform="translate(628.2 613) scale(1 1.04)" font-size="15.3">109b</text>
<text transform="translate(280.3 562) scale(1 1.04)" font-size="15.3">128</text>
<text transform="translate(118.3 182.8) scale(1 1.04)" font-size="15.3">122</text>
<text transform="translate(231.2 410.4) scale(1 1.04)" font-size="15.3" font-style="italic">B</text>
<text transform="translate(541 574.5) scale(1 1.04)" font-size="15.3" font-style="italic">B</text>
<text transform="translate(203.5 177) scale(1 1.04)" font-size="15.3" font-style="italic">A</text>
<text transform="translate(331 241) scale(1 1.04)" font-size="15.3" font-style="italic">A</text>
</svg>
</body></html>
